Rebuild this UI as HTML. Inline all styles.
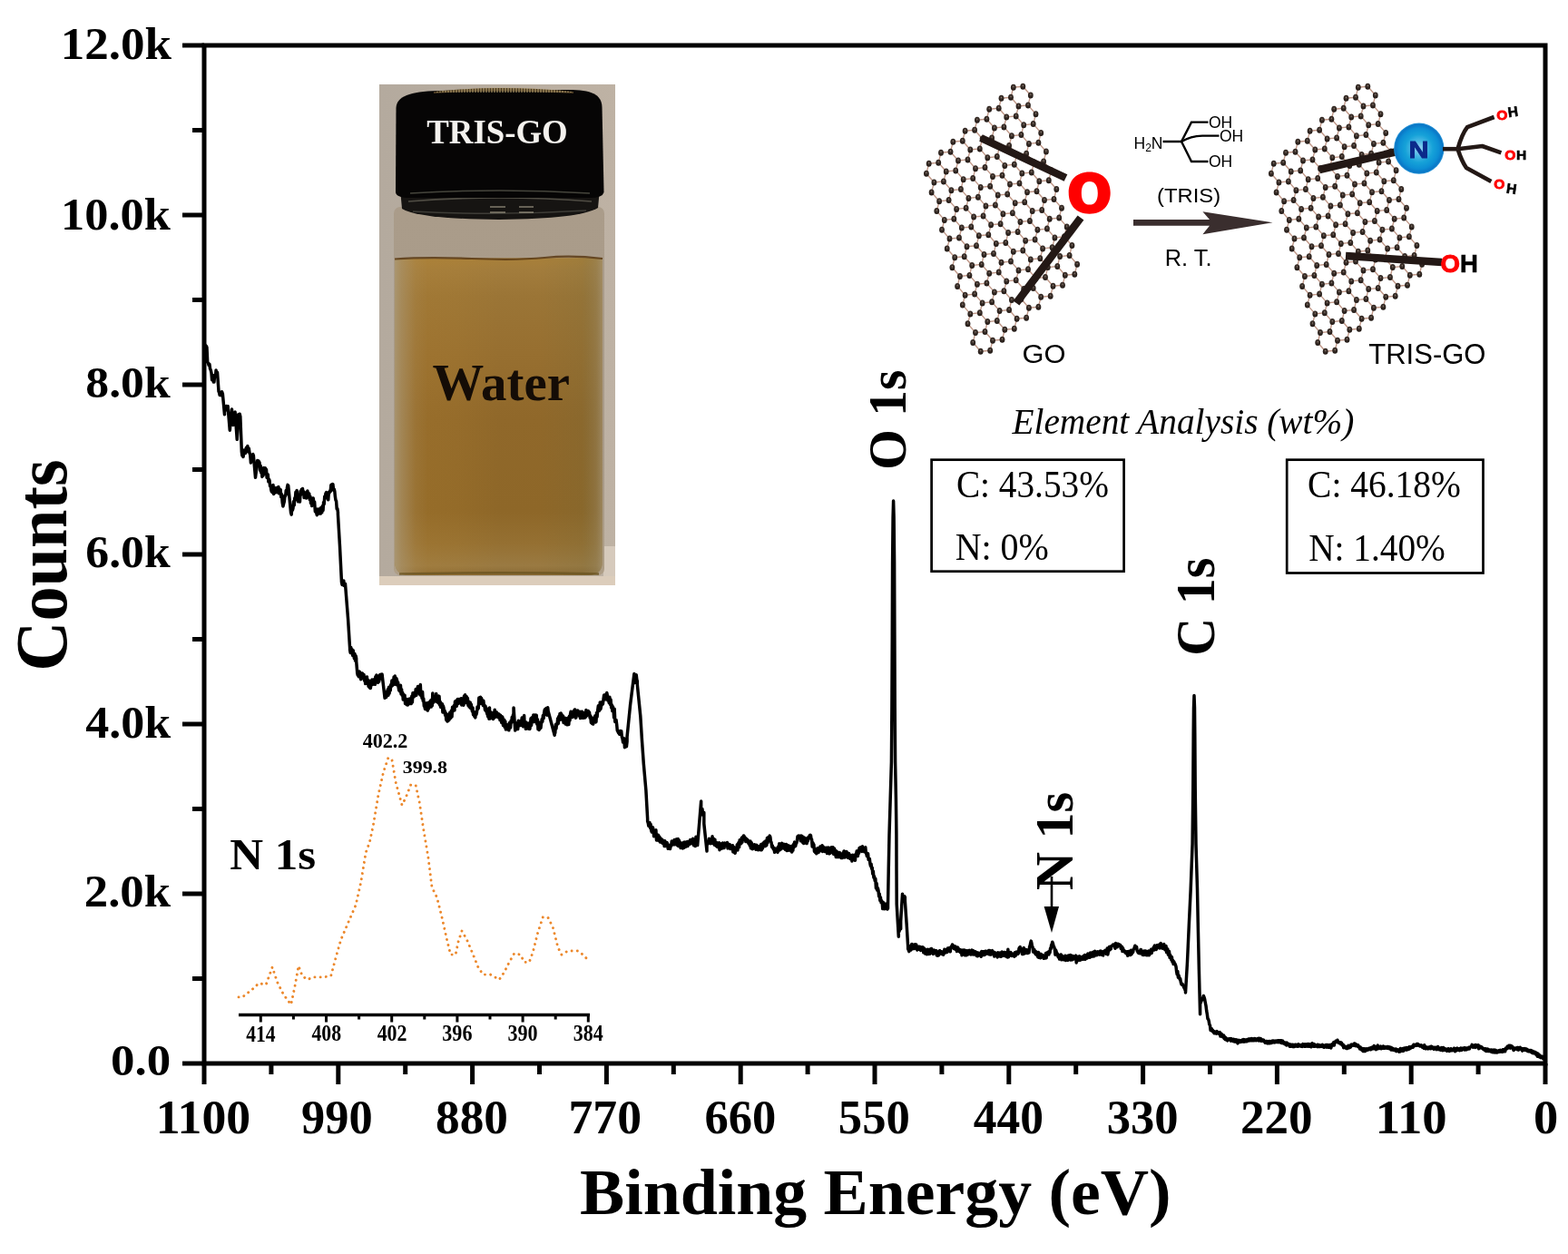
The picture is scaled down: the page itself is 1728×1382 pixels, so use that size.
<!DOCTYPE html><html><head><meta charset="utf-8"><title>XPS</title><style>html,body{margin:0;padding:0;background:#fff;}svg{display:block;}</style></head><body><svg width="1728" height="1382" viewBox="0 0 1728 1382">
<rect width="1728" height="1382" fill="#fff"/>
<defs><linearGradient id="pbg" x1="0" y1="0" x2="1" y2="0"><stop offset="0" stop-color="#b4aa9e"/><stop offset="0.5" stop-color="#b8ad9f"/><stop offset="1" stop-color="#beb2a4"/></linearGradient><linearGradient id="liqv" x1="0" y1="0" x2="0" y2="1"><stop offset="0" stop-color="#a8803a"/><stop offset="0.04" stop-color="#a27c3c"/><stop offset="0.12" stop-color="#9b7536"/><stop offset="0.3" stop-color="#976f30"/><stop offset="0.5" stop-color="#90682a"/><stop offset="0.8" stop-color="#8e6728"/><stop offset="0.9" stop-color="#957032"/><stop offset="0.97" stop-color="#9a7a42"/><stop offset="1" stop-color="#8a6a34"/></linearGradient><linearGradient id="liqh" x1="0" y1="0" x2="1" y2="0"><stop offset="0" stop-color="#aa9a7a" stop-opacity="0.85"/><stop offset="0.035" stop-color="#a89470" stop-opacity="0.6"/><stop offset="0.1" stop-color="#a89470" stop-opacity="0.15"/><stop offset="0.16" stop-color="#a89470" stop-opacity="0"/><stop offset="0.9" stop-color="#8a7a50" stop-opacity="0"/><stop offset="0.97" stop-color="#9a8a68" stop-opacity="0.35"/><stop offset="1" stop-color="#a89a80" stop-opacity="0.6"/></linearGradient><linearGradient id="liqc" x1="0" y1="0" x2="1" y2="0"><stop offset="0.05" stop-color="#c08a30" stop-opacity="0.18"/><stop offset="0.3" stop-color="#c08a30" stop-opacity="0.12"/><stop offset="0.5" stop-color="#c08a30" stop-opacity="0"/><stop offset="0.7" stop-color="#6a6a40" stop-opacity="0"/><stop offset="0.92" stop-color="#6a6a40" stop-opacity="0.15"/></linearGradient><linearGradient id="glass" x1="0" y1="0" x2="0" y2="1"><stop offset="0" stop-color="#aa9c8a"/><stop offset="0.75" stop-color="#a89a88"/><stop offset="1" stop-color="#ae9e86"/></linearGradient><linearGradient id="rim" x1="0" y1="0" x2="0" y2="1"><stop offset="0" stop-color="#0c0a08"/><stop offset="0.35" stop-color="#2a2822"/><stop offset="0.5" stop-color="#6a6658"/><stop offset="0.62" stop-color="#1c1a16"/><stop offset="0.8" stop-color="#3a3830"/><stop offset="1" stop-color="#5a5448"/></linearGradient></defs>
<rect x="418" y="93" width="260" height="552" fill="url(#pbg)"/>
<rect x="665" y="602" width="13" height="43" fill="#d6cabc"/>
<rect x="434" y="228" width="232" height="406" rx="7" fill="url(#glass)"/>
<path d="M435 285 L664 284 L664 618 Q664 634 648 634 L451 634 Q435 634 435 618 Z" fill="url(#liqv)"/>
<path d="M435 285 L664 284 L664 618 Q664 634 648 634 L451 634 Q435 634 435 618 Z" fill="url(#liqc)"/>
<path d="M435 285 L664 284 L664 618 Q664 634 648 634 L451 634 Q435 634 435 618 Z" fill="url(#liqh)"/>
<path d="M435 285.5 Q470 283 520 285 T600 284 T664 285" stroke="#5a3a14" stroke-width="2.2" fill="none" opacity="0.85"/>
<path d="M440 632.5 Q550 630 660 632.5" stroke="#6a5420" stroke-width="2.5" fill="none" opacity="0.8"/>
<rect x="418" y="635" width="260" height="10" fill="#dccdbb"/>
<path d="M441 208 L661 208 L659 229 Q640 241 550 242 Q460 241 443 230 Z" fill="#161412"/>
<path d="M450 222 Q550 214 652 222" stroke="#8a8676" stroke-width="1.6" fill="none" opacity="0.5"/>
<path d="M455 233 Q550 238 646 232" stroke="#5a5850" stroke-width="1.4" fill="none" opacity="0.6"/>
<path d="M540 228 L557 228 M572 228 L588 228 M540 234 L557 234 M572 234 L588 234" stroke="#c8c0a8" stroke-width="2" opacity="0.45"/>
<path d="M436.5 119 C437 106 452 101 482 100 L626 99 C652 99 663 104 663.5 118 L665.5 212 Q664 218 650 218 L452 218 Q437 218 436 212 Z" fill="#060505"/>
<path d="M452 213 Q550 207 650 213" stroke="#7a7a6a" stroke-width="1.4" fill="none" opacity="0.55"/>
<path d="M478 101 Q550 93 632 101 L632 103 Q550 98 478 103 Z" fill="#4a3a22"/>
<g stroke="#c8b07a" stroke-width="1.3" opacity="0.75"><line x1="482" y1="100.8" x2="482" y2="102"/><line x1="485" y1="100.4" x2="485" y2="102"/><line x1="488" y1="100.1" x2="488" y2="102"/><line x1="491" y1="99.8" x2="491" y2="102"/><line x1="494" y1="99.5" x2="494" y2="102"/><line x1="497" y1="99.2" x2="497" y2="102"/><line x1="500" y1="98.9" x2="500" y2="102"/><line x1="503" y1="98.7" x2="503" y2="102"/><line x1="506" y1="98.4" x2="506" y2="102"/><line x1="509" y1="98.2" x2="509" y2="102"/><line x1="512" y1="98.0" x2="512" y2="102"/><line x1="515" y1="97.8" x2="515" y2="102"/><line x1="518" y1="97.6" x2="518" y2="102"/><line x1="521" y1="97.4" x2="521" y2="102"/><line x1="524" y1="97.3" x2="524" y2="102"/><line x1="527" y1="97.1" x2="527" y2="102"/><line x1="530" y1="97.0" x2="530" y2="102"/><line x1="533" y1="96.9" x2="533" y2="102"/><line x1="536" y1="96.8" x2="536" y2="102"/><line x1="539" y1="96.7" x2="539" y2="102"/><line x1="542" y1="96.6" x2="542" y2="102"/><line x1="545" y1="96.6" x2="545" y2="102"/><line x1="548" y1="96.5" x2="548" y2="102"/><line x1="551" y1="96.5" x2="551" y2="102"/><line x1="554" y1="96.5" x2="554" y2="102"/><line x1="557" y1="96.5" x2="557" y2="102"/><line x1="560" y1="96.5" x2="560" y2="102"/><line x1="563" y1="96.6" x2="563" y2="102"/><line x1="566" y1="96.6" x2="566" y2="102"/><line x1="569" y1="96.7" x2="569" y2="102"/><line x1="572" y1="96.7" x2="572" y2="102"/><line x1="575" y1="96.8" x2="575" y2="102"/><line x1="578" y1="96.9" x2="578" y2="102"/><line x1="581" y1="97.0" x2="581" y2="102"/><line x1="584" y1="97.2" x2="584" y2="102"/><line x1="587" y1="97.3" x2="587" y2="102"/><line x1="590" y1="97.5" x2="590" y2="102"/><line x1="593" y1="97.7" x2="593" y2="102"/><line x1="596" y1="97.8" x2="596" y2="102"/><line x1="599" y1="98.0" x2="599" y2="102"/><line x1="602" y1="98.3" x2="602" y2="102"/><line x1="605" y1="98.5" x2="605" y2="102"/><line x1="608" y1="98.7" x2="608" y2="102"/><line x1="611" y1="99.0" x2="611" y2="102"/><line x1="614" y1="99.3" x2="614" y2="102"/><line x1="617" y1="99.6" x2="617" y2="102"/><line x1="620" y1="99.9" x2="620" y2="102"/><line x1="623" y1="100.2" x2="623" y2="102"/><line x1="626" y1="100.5" x2="626" y2="102"/><line x1="629" y1="100.9" x2="629" y2="102"/></g>
<text transform="translate(470.30,157.74) scale(0.9948,1.0505)" font-family="'Liberation Serif','Times New Roman',serif" font-size="37" font-weight="bold" font-style="normal" fill="#f4f2ee">TRIS-GO</text>
<text transform="translate(476.45,440.86) scale(0.9967,0.9895)" font-family="'Liberation Serif','Times New Roman',serif" font-size="57" font-weight="bold" font-style="normal" fill="#140c06">Water</text>
<defs><radialGradient id="atom" cx="0.5" cy="0.38" r="0.62"><stop offset="0" stop-color="#8a7c72"/><stop offset="0.3" stop-color="#3e322c"/><stop offset="1" stop-color="#1c1410"/></radialGradient></defs>
<path d="M1020.9,191.2L1029.4,201.0M1020.9,191.2L1023.7,180.3M1023.7,180.3L1034.2,179.2M1034.2,179.2L1042.7,189.0M1034.2,179.2L1037.0,168.3M1037.0,168.3L1047.5,167.2M1047.5,167.2L1056.0,177.0M1047.5,167.2L1050.3,156.3M1050.3,156.3L1060.8,155.2M1060.8,155.2L1069.3,165.0M1060.8,155.2L1063.6,144.3M1063.6,144.3L1074.1,143.2M1074.1,143.2L1082.6,153.0M1074.1,143.2L1076.9,132.3M1076.9,132.3L1087.4,131.2M1087.4,131.2L1095.9,141.0M1087.4,131.2L1090.2,120.3M1090.2,120.3L1100.7,119.2M1100.7,119.2L1109.2,129.0M1100.7,119.2L1103.5,108.3M1103.5,108.3L1114.0,107.2M1114.0,107.2L1122.5,117.0M1114.0,107.2L1116.8,96.3M1116.8,96.3L1127.3,95.2M1127.3,95.2L1135.8,105.0M1026.6,211.9L1035.1,221.7M1026.6,211.9L1029.4,201.0M1029.4,201.0L1039.9,199.9M1039.9,199.9L1048.4,209.7M1039.9,199.9L1042.7,189.0M1042.7,189.0L1053.2,187.9M1053.2,187.9L1061.7,197.7M1053.2,187.9L1056.0,177.0M1056.0,177.0L1066.5,175.9M1066.5,175.9L1075.0,185.7M1066.5,175.9L1069.3,165.0M1069.3,165.0L1079.8,163.9M1079.8,163.9L1088.3,173.7M1079.8,163.9L1082.6,153.0M1082.6,153.0L1093.1,151.9M1093.1,151.9L1101.6,161.7M1093.1,151.9L1095.9,141.0M1095.9,141.0L1106.4,139.9M1106.4,139.9L1114.9,149.7M1106.4,139.9L1109.2,129.0M1109.2,129.0L1119.7,127.9M1119.7,127.9L1128.2,137.7M1119.7,127.9L1122.5,117.0M1122.5,117.0L1133.0,115.9M1133.0,115.9L1141.5,125.7M1133.0,115.9L1135.8,105.0M1032.3,232.6L1040.8,242.4M1032.3,232.6L1035.1,221.7M1035.1,221.7L1045.6,220.6M1045.6,220.6L1054.1,230.4M1045.6,220.6L1048.4,209.7M1048.4,209.7L1058.9,208.6M1058.9,208.6L1067.4,218.4M1058.9,208.6L1061.7,197.7M1061.7,197.7L1072.2,196.6M1072.2,196.6L1080.7,206.4M1072.2,196.6L1075.0,185.7M1075.0,185.7L1085.5,184.6M1085.5,184.6L1094.0,194.4M1085.5,184.6L1088.3,173.7M1088.3,173.7L1098.8,172.6M1098.8,172.6L1107.3,182.4M1098.8,172.6L1101.6,161.7M1101.6,161.7L1112.1,160.6M1112.1,160.6L1120.6,170.4M1112.1,160.6L1114.9,149.7M1114.9,149.7L1125.4,148.6M1125.4,148.6L1133.9,158.4M1125.4,148.6L1128.2,137.7M1128.2,137.7L1138.7,136.6M1138.7,136.6L1147.2,146.4M1138.7,136.6L1141.5,125.7M1038.0,253.3L1046.5,263.1M1038.0,253.3L1040.8,242.4M1040.8,242.4L1051.3,241.3M1051.3,241.3L1059.8,251.1M1051.3,241.3L1054.1,230.4M1054.1,230.4L1064.6,229.3M1064.6,229.3L1073.1,239.1M1064.6,229.3L1067.4,218.4M1067.4,218.4L1077.9,217.3M1077.9,217.3L1086.4,227.1M1077.9,217.3L1080.7,206.4M1080.7,206.4L1091.2,205.3M1091.2,205.3L1099.7,215.1M1091.2,205.3L1094.0,194.4M1094.0,194.4L1104.5,193.3M1104.5,193.3L1113.0,203.1M1104.5,193.3L1107.3,182.4M1107.3,182.4L1117.8,181.3M1117.8,181.3L1126.3,191.1M1117.8,181.3L1120.6,170.4M1120.6,170.4L1131.1,169.3M1131.1,169.3L1139.6,179.1M1131.1,169.3L1133.9,158.4M1133.9,158.4L1144.4,157.3M1144.4,157.3L1152.9,167.1M1144.4,157.3L1147.2,146.4M1043.7,274.0L1052.2,283.8M1043.7,274.0L1046.5,263.1M1046.5,263.1L1057.0,262.0M1057.0,262.0L1065.5,271.8M1057.0,262.0L1059.8,251.1M1059.8,251.1L1070.3,250.0M1070.3,250.0L1078.8,259.8M1070.3,250.0L1073.1,239.1M1073.1,239.1L1083.6,238.0M1083.6,238.0L1092.1,247.8M1083.6,238.0L1086.4,227.1M1086.4,227.1L1096.9,226.0M1096.9,226.0L1105.4,235.8M1096.9,226.0L1099.7,215.1M1099.7,215.1L1110.2,214.0M1110.2,214.0L1118.7,223.8M1110.2,214.0L1113.0,203.1M1113.0,203.1L1123.5,202.0M1123.5,202.0L1132.0,211.8M1123.5,202.0L1126.3,191.1M1126.3,191.1L1136.8,190.0M1136.8,190.0L1145.3,199.8M1136.8,190.0L1139.6,179.1M1139.6,179.1L1150.1,178.0M1150.1,178.0L1158.6,187.8M1150.1,178.0L1152.9,167.1M1049.4,294.7L1057.9,304.5M1049.4,294.7L1052.2,283.8M1052.2,283.8L1062.7,282.7M1062.7,282.7L1071.2,292.5M1062.7,282.7L1065.5,271.8M1065.5,271.8L1076.0,270.7M1076.0,270.7L1084.5,280.5M1076.0,270.7L1078.8,259.8M1078.8,259.8L1089.3,258.7M1089.3,258.7L1097.8,268.5M1089.3,258.7L1092.1,247.8M1092.1,247.8L1102.6,246.7M1102.6,246.7L1111.1,256.5M1102.6,246.7L1105.4,235.8M1105.4,235.8L1115.9,234.7M1115.9,234.7L1124.4,244.5M1115.9,234.7L1118.7,223.8M1118.7,223.8L1129.2,222.7M1129.2,222.7L1137.7,232.5M1129.2,222.7L1132.0,211.8M1132.0,211.8L1142.5,210.7M1142.5,210.7L1151.0,220.5M1142.5,210.7L1145.3,199.8M1145.3,199.8L1155.8,198.7M1155.8,198.7L1164.3,208.5M1155.8,198.7L1158.6,187.8M1055.1,315.4L1063.6,325.2M1055.1,315.4L1057.9,304.5M1057.9,304.5L1068.4,303.4M1068.4,303.4L1076.9,313.2M1068.4,303.4L1071.2,292.5M1071.2,292.5L1081.7,291.4M1081.7,291.4L1090.2,301.2M1081.7,291.4L1084.5,280.5M1084.5,280.5L1095.0,279.4M1095.0,279.4L1103.5,289.2M1095.0,279.4L1097.8,268.5M1097.8,268.5L1108.3,267.4M1108.3,267.4L1116.8,277.2M1108.3,267.4L1111.1,256.5M1111.1,256.5L1121.6,255.4M1121.6,255.4L1130.1,265.2M1121.6,255.4L1124.4,244.5M1124.4,244.5L1134.9,243.4M1134.9,243.4L1143.4,253.2M1134.9,243.4L1137.7,232.5M1137.7,232.5L1148.2,231.4M1148.2,231.4L1156.7,241.2M1148.2,231.4L1151.0,220.5M1151.0,220.5L1161.5,219.4M1161.5,219.4L1170.0,229.2M1161.5,219.4L1164.3,208.5M1060.8,336.1L1069.3,345.9M1060.8,336.1L1063.6,325.2M1063.6,325.2L1074.1,324.1M1074.1,324.1L1082.6,333.9M1074.1,324.1L1076.9,313.2M1076.9,313.2L1087.4,312.1M1087.4,312.1L1095.9,321.9M1087.4,312.1L1090.2,301.2M1090.2,301.2L1100.7,300.1M1100.7,300.1L1109.2,309.9M1100.7,300.1L1103.5,289.2M1103.5,289.2L1114.0,288.1M1114.0,288.1L1122.5,297.9M1114.0,288.1L1116.8,277.2M1116.8,277.2L1127.3,276.1M1127.3,276.1L1135.8,285.9M1127.3,276.1L1130.1,265.2M1130.1,265.2L1140.6,264.1M1140.6,264.1L1149.1,273.9M1140.6,264.1L1143.4,253.2M1143.4,253.2L1153.9,252.1M1153.9,252.1L1162.4,261.9M1153.9,252.1L1156.7,241.2M1156.7,241.2L1167.2,240.1M1167.2,240.1L1175.7,249.9M1167.2,240.1L1170.0,229.2M1066.5,356.8L1075.0,366.6M1066.5,356.8L1069.3,345.9M1069.3,345.9L1079.8,344.8M1079.8,344.8L1088.3,354.6M1079.8,344.8L1082.6,333.9M1082.6,333.9L1093.1,332.8M1093.1,332.8L1101.6,342.6M1093.1,332.8L1095.9,321.9M1095.9,321.9L1106.4,320.8M1106.4,320.8L1114.9,330.6M1106.4,320.8L1109.2,309.9M1109.2,309.9L1119.7,308.8M1119.7,308.8L1128.2,318.6M1119.7,308.8L1122.5,297.9M1122.5,297.9L1133.0,296.8M1133.0,296.8L1141.5,306.6M1133.0,296.8L1135.8,285.9M1135.8,285.9L1146.3,284.8M1146.3,284.8L1154.8,294.6M1146.3,284.8L1149.1,273.9M1149.1,273.9L1159.6,272.8M1159.6,272.8L1168.1,282.6M1159.6,272.8L1162.4,261.9M1162.4,261.9L1172.9,260.8M1172.9,260.8L1181.4,270.6M1172.9,260.8L1175.7,249.9M1072.2,377.5L1080.7,387.3M1072.2,377.5L1075.0,366.6M1075.0,366.6L1085.5,365.5M1085.5,365.5L1094.0,375.3M1085.5,365.5L1088.3,354.6M1088.3,354.6L1098.8,353.5M1098.8,353.5L1107.3,363.3M1098.8,353.5L1101.6,342.6M1101.6,342.6L1112.1,341.5M1112.1,341.5L1120.6,351.3M1112.1,341.5L1114.9,330.6M1114.9,330.6L1125.4,329.5M1125.4,329.5L1133.9,339.3M1125.4,329.5L1128.2,318.6M1128.2,318.6L1138.7,317.5M1138.7,317.5L1147.2,327.3M1138.7,317.5L1141.5,306.6M1141.5,306.6L1152.0,305.5M1152.0,305.5L1160.5,315.3M1152.0,305.5L1154.8,294.6M1154.8,294.6L1165.3,293.5M1165.3,293.5L1173.8,303.3M1165.3,293.5L1168.1,282.6M1168.1,282.6L1178.6,281.5M1178.6,281.5L1187.1,291.3M1178.6,281.5L1181.4,270.6M1080.7,387.3L1091.2,386.2M1091.2,386.2L1094.0,375.3M1094.0,375.3L1104.5,374.2M1104.5,374.2L1107.3,363.3M1107.3,363.3L1117.8,362.2M1117.8,362.2L1120.6,351.3M1120.6,351.3L1131.1,350.2M1131.1,350.2L1133.9,339.3M1133.9,339.3L1144.4,338.2M1144.4,338.2L1147.2,327.3M1147.2,327.3L1157.7,326.2M1157.7,326.2L1160.5,315.3M1160.5,315.3L1171.0,314.2M1171.0,314.2L1173.8,303.3M1173.8,303.3L1184.3,302.2M1184.3,302.2L1187.1,291.3" stroke="#c09888" stroke-width="1.4" fill="none"/>
<g fill="url(#atom)"><ellipse cx="1020.9" cy="191.2" rx="2.9" ry="3.5"/><ellipse cx="1023.7" cy="180.3" rx="2.9" ry="3.5"/><ellipse cx="1034.2" cy="179.2" rx="2.9" ry="3.5"/><ellipse cx="1037.0" cy="168.3" rx="2.9" ry="3.5"/><ellipse cx="1047.5" cy="167.2" rx="2.9" ry="3.5"/><ellipse cx="1050.3" cy="156.3" rx="2.9" ry="3.5"/><ellipse cx="1060.8" cy="155.2" rx="2.9" ry="3.5"/><ellipse cx="1063.6" cy="144.3" rx="2.9" ry="3.5"/><ellipse cx="1074.1" cy="143.2" rx="2.9" ry="3.5"/><ellipse cx="1076.9" cy="132.3" rx="2.9" ry="3.5"/><ellipse cx="1087.4" cy="131.2" rx="2.9" ry="3.5"/><ellipse cx="1090.2" cy="120.3" rx="2.9" ry="3.5"/><ellipse cx="1100.7" cy="119.2" rx="2.9" ry="3.5"/><ellipse cx="1103.5" cy="108.3" rx="2.9" ry="3.5"/><ellipse cx="1114.0" cy="107.2" rx="2.9" ry="3.5"/><ellipse cx="1116.8" cy="96.3" rx="2.9" ry="3.5"/><ellipse cx="1127.3" cy="95.2" rx="2.9" ry="3.5"/><ellipse cx="1026.6" cy="211.9" rx="2.9" ry="3.5"/><ellipse cx="1029.4" cy="201.0" rx="2.9" ry="3.5"/><ellipse cx="1039.9" cy="199.9" rx="2.9" ry="3.5"/><ellipse cx="1042.7" cy="189.0" rx="2.9" ry="3.5"/><ellipse cx="1053.2" cy="187.9" rx="2.9" ry="3.5"/><ellipse cx="1056.0" cy="177.0" rx="2.9" ry="3.5"/><ellipse cx="1066.5" cy="175.9" rx="2.9" ry="3.5"/><ellipse cx="1069.3" cy="165.0" rx="2.9" ry="3.5"/><ellipse cx="1079.8" cy="163.9" rx="2.9" ry="3.5"/><ellipse cx="1082.6" cy="153.0" rx="2.9" ry="3.5"/><ellipse cx="1093.1" cy="151.9" rx="2.9" ry="3.5"/><ellipse cx="1095.9" cy="141.0" rx="2.9" ry="3.5"/><ellipse cx="1106.4" cy="139.9" rx="2.9" ry="3.5"/><ellipse cx="1109.2" cy="129.0" rx="2.9" ry="3.5"/><ellipse cx="1119.7" cy="127.9" rx="2.9" ry="3.5"/><ellipse cx="1122.5" cy="117.0" rx="2.9" ry="3.5"/><ellipse cx="1133.0" cy="115.9" rx="2.9" ry="3.5"/><ellipse cx="1135.8" cy="105.0" rx="2.9" ry="3.5"/><ellipse cx="1032.3" cy="232.6" rx="2.9" ry="3.5"/><ellipse cx="1035.1" cy="221.7" rx="2.9" ry="3.5"/><ellipse cx="1045.6" cy="220.6" rx="2.9" ry="3.5"/><ellipse cx="1048.4" cy="209.7" rx="2.9" ry="3.5"/><ellipse cx="1058.9" cy="208.6" rx="2.9" ry="3.5"/><ellipse cx="1061.7" cy="197.7" rx="2.9" ry="3.5"/><ellipse cx="1072.2" cy="196.6" rx="2.9" ry="3.5"/><ellipse cx="1075.0" cy="185.7" rx="2.9" ry="3.5"/><ellipse cx="1085.5" cy="184.6" rx="2.9" ry="3.5"/><ellipse cx="1088.3" cy="173.7" rx="2.9" ry="3.5"/><ellipse cx="1098.8" cy="172.6" rx="2.9" ry="3.5"/><ellipse cx="1101.6" cy="161.7" rx="2.9" ry="3.5"/><ellipse cx="1112.1" cy="160.6" rx="2.9" ry="3.5"/><ellipse cx="1114.9" cy="149.7" rx="2.9" ry="3.5"/><ellipse cx="1125.4" cy="148.6" rx="2.9" ry="3.5"/><ellipse cx="1128.2" cy="137.7" rx="2.9" ry="3.5"/><ellipse cx="1138.7" cy="136.6" rx="2.9" ry="3.5"/><ellipse cx="1141.5" cy="125.7" rx="2.9" ry="3.5"/><ellipse cx="1038.0" cy="253.3" rx="2.9" ry="3.5"/><ellipse cx="1040.8" cy="242.4" rx="2.9" ry="3.5"/><ellipse cx="1051.3" cy="241.3" rx="2.9" ry="3.5"/><ellipse cx="1054.1" cy="230.4" rx="2.9" ry="3.5"/><ellipse cx="1064.6" cy="229.3" rx="2.9" ry="3.5"/><ellipse cx="1067.4" cy="218.4" rx="2.9" ry="3.5"/><ellipse cx="1077.9" cy="217.3" rx="2.9" ry="3.5"/><ellipse cx="1080.7" cy="206.4" rx="2.9" ry="3.5"/><ellipse cx="1091.2" cy="205.3" rx="2.9" ry="3.5"/><ellipse cx="1094.0" cy="194.4" rx="2.9" ry="3.5"/><ellipse cx="1104.5" cy="193.3" rx="2.9" ry="3.5"/><ellipse cx="1107.3" cy="182.4" rx="2.9" ry="3.5"/><ellipse cx="1117.8" cy="181.3" rx="2.9" ry="3.5"/><ellipse cx="1120.6" cy="170.4" rx="2.9" ry="3.5"/><ellipse cx="1131.1" cy="169.3" rx="2.9" ry="3.5"/><ellipse cx="1133.9" cy="158.4" rx="2.9" ry="3.5"/><ellipse cx="1144.4" cy="157.3" rx="2.9" ry="3.5"/><ellipse cx="1147.2" cy="146.4" rx="2.9" ry="3.5"/><ellipse cx="1043.7" cy="274.0" rx="2.9" ry="3.5"/><ellipse cx="1046.5" cy="263.1" rx="2.9" ry="3.5"/><ellipse cx="1057.0" cy="262.0" rx="2.9" ry="3.5"/><ellipse cx="1059.8" cy="251.1" rx="2.9" ry="3.5"/><ellipse cx="1070.3" cy="250.0" rx="2.9" ry="3.5"/><ellipse cx="1073.1" cy="239.1" rx="2.9" ry="3.5"/><ellipse cx="1083.6" cy="238.0" rx="2.9" ry="3.5"/><ellipse cx="1086.4" cy="227.1" rx="2.9" ry="3.5"/><ellipse cx="1096.9" cy="226.0" rx="2.9" ry="3.5"/><ellipse cx="1099.7" cy="215.1" rx="2.9" ry="3.5"/><ellipse cx="1110.2" cy="214.0" rx="2.9" ry="3.5"/><ellipse cx="1113.0" cy="203.1" rx="2.9" ry="3.5"/><ellipse cx="1123.5" cy="202.0" rx="2.9" ry="3.5"/><ellipse cx="1126.3" cy="191.1" rx="2.9" ry="3.5"/><ellipse cx="1136.8" cy="190.0" rx="2.9" ry="3.5"/><ellipse cx="1139.6" cy="179.1" rx="2.9" ry="3.5"/><ellipse cx="1150.1" cy="178.0" rx="2.9" ry="3.5"/><ellipse cx="1152.9" cy="167.1" rx="2.9" ry="3.5"/><ellipse cx="1049.4" cy="294.7" rx="2.9" ry="3.5"/><ellipse cx="1052.2" cy="283.8" rx="2.9" ry="3.5"/><ellipse cx="1062.7" cy="282.7" rx="2.9" ry="3.5"/><ellipse cx="1065.5" cy="271.8" rx="2.9" ry="3.5"/><ellipse cx="1076.0" cy="270.7" rx="2.9" ry="3.5"/><ellipse cx="1078.8" cy="259.8" rx="2.9" ry="3.5"/><ellipse cx="1089.3" cy="258.7" rx="2.9" ry="3.5"/><ellipse cx="1092.1" cy="247.8" rx="2.9" ry="3.5"/><ellipse cx="1102.6" cy="246.7" rx="2.9" ry="3.5"/><ellipse cx="1105.4" cy="235.8" rx="2.9" ry="3.5"/><ellipse cx="1115.9" cy="234.7" rx="2.9" ry="3.5"/><ellipse cx="1118.7" cy="223.8" rx="2.9" ry="3.5"/><ellipse cx="1129.2" cy="222.7" rx="2.9" ry="3.5"/><ellipse cx="1132.0" cy="211.8" rx="2.9" ry="3.5"/><ellipse cx="1142.5" cy="210.7" rx="2.9" ry="3.5"/><ellipse cx="1145.3" cy="199.8" rx="2.9" ry="3.5"/><ellipse cx="1155.8" cy="198.7" rx="2.9" ry="3.5"/><ellipse cx="1158.6" cy="187.8" rx="2.9" ry="3.5"/><ellipse cx="1055.1" cy="315.4" rx="2.9" ry="3.5"/><ellipse cx="1057.9" cy="304.5" rx="2.9" ry="3.5"/><ellipse cx="1068.4" cy="303.4" rx="2.9" ry="3.5"/><ellipse cx="1071.2" cy="292.5" rx="2.9" ry="3.5"/><ellipse cx="1081.7" cy="291.4" rx="2.9" ry="3.5"/><ellipse cx="1084.5" cy="280.5" rx="2.9" ry="3.5"/><ellipse cx="1095.0" cy="279.4" rx="2.9" ry="3.5"/><ellipse cx="1097.8" cy="268.5" rx="2.9" ry="3.5"/><ellipse cx="1108.3" cy="267.4" rx="2.9" ry="3.5"/><ellipse cx="1111.1" cy="256.5" rx="2.9" ry="3.5"/><ellipse cx="1121.6" cy="255.4" rx="2.9" ry="3.5"/><ellipse cx="1124.4" cy="244.5" rx="2.9" ry="3.5"/><ellipse cx="1134.9" cy="243.4" rx="2.9" ry="3.5"/><ellipse cx="1137.7" cy="232.5" rx="2.9" ry="3.5"/><ellipse cx="1148.2" cy="231.4" rx="2.9" ry="3.5"/><ellipse cx="1151.0" cy="220.5" rx="2.9" ry="3.5"/><ellipse cx="1161.5" cy="219.4" rx="2.9" ry="3.5"/><ellipse cx="1164.3" cy="208.5" rx="2.9" ry="3.5"/><ellipse cx="1060.8" cy="336.1" rx="2.9" ry="3.5"/><ellipse cx="1063.6" cy="325.2" rx="2.9" ry="3.5"/><ellipse cx="1074.1" cy="324.1" rx="2.9" ry="3.5"/><ellipse cx="1076.9" cy="313.2" rx="2.9" ry="3.5"/><ellipse cx="1087.4" cy="312.1" rx="2.9" ry="3.5"/><ellipse cx="1090.2" cy="301.2" rx="2.9" ry="3.5"/><ellipse cx="1100.7" cy="300.1" rx="2.9" ry="3.5"/><ellipse cx="1103.5" cy="289.2" rx="2.9" ry="3.5"/><ellipse cx="1114.0" cy="288.1" rx="2.9" ry="3.5"/><ellipse cx="1116.8" cy="277.2" rx="2.9" ry="3.5"/><ellipse cx="1127.3" cy="276.1" rx="2.9" ry="3.5"/><ellipse cx="1130.1" cy="265.2" rx="2.9" ry="3.5"/><ellipse cx="1140.6" cy="264.1" rx="2.9" ry="3.5"/><ellipse cx="1143.4" cy="253.2" rx="2.9" ry="3.5"/><ellipse cx="1153.9" cy="252.1" rx="2.9" ry="3.5"/><ellipse cx="1156.7" cy="241.2" rx="2.9" ry="3.5"/><ellipse cx="1167.2" cy="240.1" rx="2.9" ry="3.5"/><ellipse cx="1170.0" cy="229.2" rx="2.9" ry="3.5"/><ellipse cx="1066.5" cy="356.8" rx="2.9" ry="3.5"/><ellipse cx="1069.3" cy="345.9" rx="2.9" ry="3.5"/><ellipse cx="1079.8" cy="344.8" rx="2.9" ry="3.5"/><ellipse cx="1082.6" cy="333.9" rx="2.9" ry="3.5"/><ellipse cx="1093.1" cy="332.8" rx="2.9" ry="3.5"/><ellipse cx="1095.9" cy="321.9" rx="2.9" ry="3.5"/><ellipse cx="1106.4" cy="320.8" rx="2.9" ry="3.5"/><ellipse cx="1109.2" cy="309.9" rx="2.9" ry="3.5"/><ellipse cx="1119.7" cy="308.8" rx="2.9" ry="3.5"/><ellipse cx="1122.5" cy="297.9" rx="2.9" ry="3.5"/><ellipse cx="1133.0" cy="296.8" rx="2.9" ry="3.5"/><ellipse cx="1135.8" cy="285.9" rx="2.9" ry="3.5"/><ellipse cx="1146.3" cy="284.8" rx="2.9" ry="3.5"/><ellipse cx="1149.1" cy="273.9" rx="2.9" ry="3.5"/><ellipse cx="1159.6" cy="272.8" rx="2.9" ry="3.5"/><ellipse cx="1162.4" cy="261.9" rx="2.9" ry="3.5"/><ellipse cx="1172.9" cy="260.8" rx="2.9" ry="3.5"/><ellipse cx="1175.7" cy="249.9" rx="2.9" ry="3.5"/><ellipse cx="1072.2" cy="377.5" rx="2.9" ry="3.5"/><ellipse cx="1075.0" cy="366.6" rx="2.9" ry="3.5"/><ellipse cx="1085.5" cy="365.5" rx="2.9" ry="3.5"/><ellipse cx="1088.3" cy="354.6" rx="2.9" ry="3.5"/><ellipse cx="1098.8" cy="353.5" rx="2.9" ry="3.5"/><ellipse cx="1101.6" cy="342.6" rx="2.9" ry="3.5"/><ellipse cx="1112.1" cy="341.5" rx="2.9" ry="3.5"/><ellipse cx="1114.9" cy="330.6" rx="2.9" ry="3.5"/><ellipse cx="1125.4" cy="329.5" rx="2.9" ry="3.5"/><ellipse cx="1128.2" cy="318.6" rx="2.9" ry="3.5"/><ellipse cx="1138.7" cy="317.5" rx="2.9" ry="3.5"/><ellipse cx="1141.5" cy="306.6" rx="2.9" ry="3.5"/><ellipse cx="1152.0" cy="305.5" rx="2.9" ry="3.5"/><ellipse cx="1154.8" cy="294.6" rx="2.9" ry="3.5"/><ellipse cx="1165.3" cy="293.5" rx="2.9" ry="3.5"/><ellipse cx="1168.1" cy="282.6" rx="2.9" ry="3.5"/><ellipse cx="1178.6" cy="281.5" rx="2.9" ry="3.5"/><ellipse cx="1181.4" cy="270.6" rx="2.9" ry="3.5"/><ellipse cx="1080.7" cy="387.3" rx="2.9" ry="3.5"/><ellipse cx="1091.2" cy="386.2" rx="2.9" ry="3.5"/><ellipse cx="1094.0" cy="375.3" rx="2.9" ry="3.5"/><ellipse cx="1104.5" cy="374.2" rx="2.9" ry="3.5"/><ellipse cx="1107.3" cy="363.3" rx="2.9" ry="3.5"/><ellipse cx="1117.8" cy="362.2" rx="2.9" ry="3.5"/><ellipse cx="1120.6" cy="351.3" rx="2.9" ry="3.5"/><ellipse cx="1131.1" cy="350.2" rx="2.9" ry="3.5"/><ellipse cx="1133.9" cy="339.3" rx="2.9" ry="3.5"/><ellipse cx="1144.4" cy="338.2" rx="2.9" ry="3.5"/><ellipse cx="1147.2" cy="327.3" rx="2.9" ry="3.5"/><ellipse cx="1157.7" cy="326.2" rx="2.9" ry="3.5"/><ellipse cx="1160.5" cy="315.3" rx="2.9" ry="3.5"/><ellipse cx="1171.0" cy="314.2" rx="2.9" ry="3.5"/><ellipse cx="1173.8" cy="303.3" rx="2.9" ry="3.5"/><ellipse cx="1184.3" cy="302.2" rx="2.9" ry="3.5"/><ellipse cx="1187.1" cy="291.3" rx="2.9" ry="3.5"/></g>
<path d="M1400.9,191.2L1409.4,201.0M1400.9,191.2L1403.7,180.3M1403.7,180.3L1414.2,179.2M1414.2,179.2L1422.7,189.0M1414.2,179.2L1417.0,168.3M1417.0,168.3L1427.5,167.2M1427.5,167.2L1436.0,177.0M1427.5,167.2L1430.3,156.3M1430.3,156.3L1440.8,155.2M1440.8,155.2L1449.3,165.0M1440.8,155.2L1443.6,144.3M1443.6,144.3L1454.1,143.2M1454.1,143.2L1462.6,153.0M1454.1,143.2L1456.9,132.3M1456.9,132.3L1467.4,131.2M1467.4,131.2L1475.9,141.0M1467.4,131.2L1470.2,120.3M1470.2,120.3L1480.7,119.2M1480.7,119.2L1489.2,129.0M1480.7,119.2L1483.5,108.3M1483.5,108.3L1494.0,107.2M1494.0,107.2L1502.5,117.0M1494.0,107.2L1496.8,96.3M1496.8,96.3L1507.3,95.2M1507.3,95.2L1515.8,105.0M1406.6,211.9L1415.1,221.7M1406.6,211.9L1409.4,201.0M1409.4,201.0L1419.9,199.9M1419.9,199.9L1428.4,209.7M1419.9,199.9L1422.7,189.0M1422.7,189.0L1433.2,187.9M1433.2,187.9L1441.7,197.7M1433.2,187.9L1436.0,177.0M1436.0,177.0L1446.5,175.9M1446.5,175.9L1455.0,185.7M1446.5,175.9L1449.3,165.0M1449.3,165.0L1459.8,163.9M1459.8,163.9L1468.3,173.7M1459.8,163.9L1462.6,153.0M1462.6,153.0L1473.1,151.9M1473.1,151.9L1481.6,161.7M1473.1,151.9L1475.9,141.0M1475.9,141.0L1486.4,139.9M1486.4,139.9L1494.9,149.7M1486.4,139.9L1489.2,129.0M1489.2,129.0L1499.7,127.9M1499.7,127.9L1508.2,137.7M1499.7,127.9L1502.5,117.0M1502.5,117.0L1513.0,115.9M1513.0,115.9L1521.5,125.7M1513.0,115.9L1515.8,105.0M1412.3,232.6L1420.8,242.4M1412.3,232.6L1415.1,221.7M1415.1,221.7L1425.6,220.6M1425.6,220.6L1434.1,230.4M1425.6,220.6L1428.4,209.7M1428.4,209.7L1438.9,208.6M1438.9,208.6L1447.4,218.4M1438.9,208.6L1441.7,197.7M1441.7,197.7L1452.2,196.6M1452.2,196.6L1460.7,206.4M1452.2,196.6L1455.0,185.7M1455.0,185.7L1465.5,184.6M1465.5,184.6L1474.0,194.4M1465.5,184.6L1468.3,173.7M1468.3,173.7L1478.8,172.6M1478.8,172.6L1487.3,182.4M1478.8,172.6L1481.6,161.7M1481.6,161.7L1492.1,160.6M1492.1,160.6L1500.6,170.4M1492.1,160.6L1494.9,149.7M1494.9,149.7L1505.4,148.6M1505.4,148.6L1513.9,158.4M1505.4,148.6L1508.2,137.7M1508.2,137.7L1518.7,136.6M1518.7,136.6L1527.2,146.4M1518.7,136.6L1521.5,125.7M1418.0,253.3L1426.5,263.1M1418.0,253.3L1420.8,242.4M1420.8,242.4L1431.3,241.3M1431.3,241.3L1439.8,251.1M1431.3,241.3L1434.1,230.4M1434.1,230.4L1444.6,229.3M1444.6,229.3L1453.1,239.1M1444.6,229.3L1447.4,218.4M1447.4,218.4L1457.9,217.3M1457.9,217.3L1466.4,227.1M1457.9,217.3L1460.7,206.4M1460.7,206.4L1471.2,205.3M1471.2,205.3L1479.7,215.1M1471.2,205.3L1474.0,194.4M1474.0,194.4L1484.5,193.3M1484.5,193.3L1493.0,203.1M1484.5,193.3L1487.3,182.4M1487.3,182.4L1497.8,181.3M1497.8,181.3L1506.3,191.1M1497.8,181.3L1500.6,170.4M1500.6,170.4L1511.1,169.3M1511.1,169.3L1519.6,179.1M1511.1,169.3L1513.9,158.4M1513.9,158.4L1524.4,157.3M1524.4,157.3L1532.9,167.1M1524.4,157.3L1527.2,146.4M1423.7,274.0L1432.2,283.8M1423.7,274.0L1426.5,263.1M1426.5,263.1L1437.0,262.0M1437.0,262.0L1445.5,271.8M1437.0,262.0L1439.8,251.1M1439.8,251.1L1450.3,250.0M1450.3,250.0L1458.8,259.8M1450.3,250.0L1453.1,239.1M1453.1,239.1L1463.6,238.0M1463.6,238.0L1472.1,247.8M1463.6,238.0L1466.4,227.1M1466.4,227.1L1476.9,226.0M1476.9,226.0L1485.4,235.8M1476.9,226.0L1479.7,215.1M1479.7,215.1L1490.2,214.0M1490.2,214.0L1498.7,223.8M1490.2,214.0L1493.0,203.1M1493.0,203.1L1503.5,202.0M1503.5,202.0L1512.0,211.8M1503.5,202.0L1506.3,191.1M1506.3,191.1L1516.8,190.0M1516.8,190.0L1525.3,199.8M1516.8,190.0L1519.6,179.1M1519.6,179.1L1530.1,178.0M1530.1,178.0L1538.6,187.8M1530.1,178.0L1532.9,167.1M1429.4,294.7L1437.9,304.5M1429.4,294.7L1432.2,283.8M1432.2,283.8L1442.7,282.7M1442.7,282.7L1451.2,292.5M1442.7,282.7L1445.5,271.8M1445.5,271.8L1456.0,270.7M1456.0,270.7L1464.5,280.5M1456.0,270.7L1458.8,259.8M1458.8,259.8L1469.3,258.7M1469.3,258.7L1477.8,268.5M1469.3,258.7L1472.1,247.8M1472.1,247.8L1482.6,246.7M1482.6,246.7L1491.1,256.5M1482.6,246.7L1485.4,235.8M1485.4,235.8L1495.9,234.7M1495.9,234.7L1504.4,244.5M1495.9,234.7L1498.7,223.8M1498.7,223.8L1509.2,222.7M1509.2,222.7L1517.7,232.5M1509.2,222.7L1512.0,211.8M1512.0,211.8L1522.5,210.7M1522.5,210.7L1531.0,220.5M1522.5,210.7L1525.3,199.8M1525.3,199.8L1535.8,198.7M1535.8,198.7L1544.3,208.5M1535.8,198.7L1538.6,187.8M1435.1,315.4L1443.6,325.2M1435.1,315.4L1437.9,304.5M1437.9,304.5L1448.4,303.4M1448.4,303.4L1456.9,313.2M1448.4,303.4L1451.2,292.5M1451.2,292.5L1461.7,291.4M1461.7,291.4L1470.2,301.2M1461.7,291.4L1464.5,280.5M1464.5,280.5L1475.0,279.4M1475.0,279.4L1483.5,289.2M1475.0,279.4L1477.8,268.5M1477.8,268.5L1488.3,267.4M1488.3,267.4L1496.8,277.2M1488.3,267.4L1491.1,256.5M1491.1,256.5L1501.6,255.4M1501.6,255.4L1510.1,265.2M1501.6,255.4L1504.4,244.5M1504.4,244.5L1514.9,243.4M1514.9,243.4L1523.4,253.2M1514.9,243.4L1517.7,232.5M1517.7,232.5L1528.2,231.4M1528.2,231.4L1536.7,241.2M1528.2,231.4L1531.0,220.5M1531.0,220.5L1541.5,219.4M1541.5,219.4L1550.0,229.2M1541.5,219.4L1544.3,208.5M1440.8,336.1L1449.3,345.9M1440.8,336.1L1443.6,325.2M1443.6,325.2L1454.1,324.1M1454.1,324.1L1462.6,333.9M1454.1,324.1L1456.9,313.2M1456.9,313.2L1467.4,312.1M1467.4,312.1L1475.9,321.9M1467.4,312.1L1470.2,301.2M1470.2,301.2L1480.7,300.1M1480.7,300.1L1489.2,309.9M1480.7,300.1L1483.5,289.2M1483.5,289.2L1494.0,288.1M1494.0,288.1L1502.5,297.9M1494.0,288.1L1496.8,277.2M1496.8,277.2L1507.3,276.1M1507.3,276.1L1515.8,285.9M1507.3,276.1L1510.1,265.2M1510.1,265.2L1520.6,264.1M1520.6,264.1L1529.1,273.9M1520.6,264.1L1523.4,253.2M1523.4,253.2L1533.9,252.1M1533.9,252.1L1542.4,261.9M1533.9,252.1L1536.7,241.2M1536.7,241.2L1547.2,240.1M1547.2,240.1L1555.7,249.9M1547.2,240.1L1550.0,229.2M1446.5,356.8L1455.0,366.6M1446.5,356.8L1449.3,345.9M1449.3,345.9L1459.8,344.8M1459.8,344.8L1468.3,354.6M1459.8,344.8L1462.6,333.9M1462.6,333.9L1473.1,332.8M1473.1,332.8L1481.6,342.6M1473.1,332.8L1475.9,321.9M1475.9,321.9L1486.4,320.8M1486.4,320.8L1494.9,330.6M1486.4,320.8L1489.2,309.9M1489.2,309.9L1499.7,308.8M1499.7,308.8L1508.2,318.6M1499.7,308.8L1502.5,297.9M1502.5,297.9L1513.0,296.8M1513.0,296.8L1521.5,306.6M1513.0,296.8L1515.8,285.9M1515.8,285.9L1526.3,284.8M1526.3,284.8L1534.8,294.6M1526.3,284.8L1529.1,273.9M1529.1,273.9L1539.6,272.8M1539.6,272.8L1548.1,282.6M1539.6,272.8L1542.4,261.9M1542.4,261.9L1552.9,260.8M1552.9,260.8L1561.4,270.6M1552.9,260.8L1555.7,249.9M1452.2,377.5L1460.7,387.3M1452.2,377.5L1455.0,366.6M1455.0,366.6L1465.5,365.5M1465.5,365.5L1474.0,375.3M1465.5,365.5L1468.3,354.6M1468.3,354.6L1478.8,353.5M1478.8,353.5L1487.3,363.3M1478.8,353.5L1481.6,342.6M1481.6,342.6L1492.1,341.5M1492.1,341.5L1500.6,351.3M1492.1,341.5L1494.9,330.6M1494.9,330.6L1505.4,329.5M1505.4,329.5L1513.9,339.3M1505.4,329.5L1508.2,318.6M1508.2,318.6L1518.7,317.5M1518.7,317.5L1527.2,327.3M1518.7,317.5L1521.5,306.6M1521.5,306.6L1532.0,305.5M1532.0,305.5L1540.5,315.3M1532.0,305.5L1534.8,294.6M1534.8,294.6L1545.3,293.5M1545.3,293.5L1553.8,303.3M1545.3,293.5L1548.1,282.6M1548.1,282.6L1558.6,281.5M1558.6,281.5L1567.1,291.3M1558.6,281.5L1561.4,270.6M1460.7,387.3L1471.2,386.2M1471.2,386.2L1474.0,375.3M1474.0,375.3L1484.5,374.2M1484.5,374.2L1487.3,363.3M1487.3,363.3L1497.8,362.2M1497.8,362.2L1500.6,351.3M1500.6,351.3L1511.1,350.2M1511.1,350.2L1513.9,339.3M1513.9,339.3L1524.4,338.2M1524.4,338.2L1527.2,327.3M1527.2,327.3L1537.7,326.2M1537.7,326.2L1540.5,315.3M1540.5,315.3L1551.0,314.2M1551.0,314.2L1553.8,303.3M1553.8,303.3L1564.3,302.2M1564.3,302.2L1567.1,291.3" stroke="#c09888" stroke-width="1.4" fill="none"/>
<g fill="url(#atom)"><ellipse cx="1400.9" cy="191.2" rx="2.9" ry="3.5"/><ellipse cx="1403.7" cy="180.3" rx="2.9" ry="3.5"/><ellipse cx="1414.2" cy="179.2" rx="2.9" ry="3.5"/><ellipse cx="1417.0" cy="168.3" rx="2.9" ry="3.5"/><ellipse cx="1427.5" cy="167.2" rx="2.9" ry="3.5"/><ellipse cx="1430.3" cy="156.3" rx="2.9" ry="3.5"/><ellipse cx="1440.8" cy="155.2" rx="2.9" ry="3.5"/><ellipse cx="1443.6" cy="144.3" rx="2.9" ry="3.5"/><ellipse cx="1454.1" cy="143.2" rx="2.9" ry="3.5"/><ellipse cx="1456.9" cy="132.3" rx="2.9" ry="3.5"/><ellipse cx="1467.4" cy="131.2" rx="2.9" ry="3.5"/><ellipse cx="1470.2" cy="120.3" rx="2.9" ry="3.5"/><ellipse cx="1480.7" cy="119.2" rx="2.9" ry="3.5"/><ellipse cx="1483.5" cy="108.3" rx="2.9" ry="3.5"/><ellipse cx="1494.0" cy="107.2" rx="2.9" ry="3.5"/><ellipse cx="1496.8" cy="96.3" rx="2.9" ry="3.5"/><ellipse cx="1507.3" cy="95.2" rx="2.9" ry="3.5"/><ellipse cx="1406.6" cy="211.9" rx="2.9" ry="3.5"/><ellipse cx="1409.4" cy="201.0" rx="2.9" ry="3.5"/><ellipse cx="1419.9" cy="199.9" rx="2.9" ry="3.5"/><ellipse cx="1422.7" cy="189.0" rx="2.9" ry="3.5"/><ellipse cx="1433.2" cy="187.9" rx="2.9" ry="3.5"/><ellipse cx="1436.0" cy="177.0" rx="2.9" ry="3.5"/><ellipse cx="1446.5" cy="175.9" rx="2.9" ry="3.5"/><ellipse cx="1449.3" cy="165.0" rx="2.9" ry="3.5"/><ellipse cx="1459.8" cy="163.9" rx="2.9" ry="3.5"/><ellipse cx="1462.6" cy="153.0" rx="2.9" ry="3.5"/><ellipse cx="1473.1" cy="151.9" rx="2.9" ry="3.5"/><ellipse cx="1475.9" cy="141.0" rx="2.9" ry="3.5"/><ellipse cx="1486.4" cy="139.9" rx="2.9" ry="3.5"/><ellipse cx="1489.2" cy="129.0" rx="2.9" ry="3.5"/><ellipse cx="1499.7" cy="127.9" rx="2.9" ry="3.5"/><ellipse cx="1502.5" cy="117.0" rx="2.9" ry="3.5"/><ellipse cx="1513.0" cy="115.9" rx="2.9" ry="3.5"/><ellipse cx="1515.8" cy="105.0" rx="2.9" ry="3.5"/><ellipse cx="1412.3" cy="232.6" rx="2.9" ry="3.5"/><ellipse cx="1415.1" cy="221.7" rx="2.9" ry="3.5"/><ellipse cx="1425.6" cy="220.6" rx="2.9" ry="3.5"/><ellipse cx="1428.4" cy="209.7" rx="2.9" ry="3.5"/><ellipse cx="1438.9" cy="208.6" rx="2.9" ry="3.5"/><ellipse cx="1441.7" cy="197.7" rx="2.9" ry="3.5"/><ellipse cx="1452.2" cy="196.6" rx="2.9" ry="3.5"/><ellipse cx="1455.0" cy="185.7" rx="2.9" ry="3.5"/><ellipse cx="1465.5" cy="184.6" rx="2.9" ry="3.5"/><ellipse cx="1468.3" cy="173.7" rx="2.9" ry="3.5"/><ellipse cx="1478.8" cy="172.6" rx="2.9" ry="3.5"/><ellipse cx="1481.6" cy="161.7" rx="2.9" ry="3.5"/><ellipse cx="1492.1" cy="160.6" rx="2.9" ry="3.5"/><ellipse cx="1494.9" cy="149.7" rx="2.9" ry="3.5"/><ellipse cx="1505.4" cy="148.6" rx="2.9" ry="3.5"/><ellipse cx="1508.2" cy="137.7" rx="2.9" ry="3.5"/><ellipse cx="1518.7" cy="136.6" rx="2.9" ry="3.5"/><ellipse cx="1521.5" cy="125.7" rx="2.9" ry="3.5"/><ellipse cx="1418.0" cy="253.3" rx="2.9" ry="3.5"/><ellipse cx="1420.8" cy="242.4" rx="2.9" ry="3.5"/><ellipse cx="1431.3" cy="241.3" rx="2.9" ry="3.5"/><ellipse cx="1434.1" cy="230.4" rx="2.9" ry="3.5"/><ellipse cx="1444.6" cy="229.3" rx="2.9" ry="3.5"/><ellipse cx="1447.4" cy="218.4" rx="2.9" ry="3.5"/><ellipse cx="1457.9" cy="217.3" rx="2.9" ry="3.5"/><ellipse cx="1460.7" cy="206.4" rx="2.9" ry="3.5"/><ellipse cx="1471.2" cy="205.3" rx="2.9" ry="3.5"/><ellipse cx="1474.0" cy="194.4" rx="2.9" ry="3.5"/><ellipse cx="1484.5" cy="193.3" rx="2.9" ry="3.5"/><ellipse cx="1487.3" cy="182.4" rx="2.9" ry="3.5"/><ellipse cx="1497.8" cy="181.3" rx="2.9" ry="3.5"/><ellipse cx="1500.6" cy="170.4" rx="2.9" ry="3.5"/><ellipse cx="1511.1" cy="169.3" rx="2.9" ry="3.5"/><ellipse cx="1513.9" cy="158.4" rx="2.9" ry="3.5"/><ellipse cx="1524.4" cy="157.3" rx="2.9" ry="3.5"/><ellipse cx="1527.2" cy="146.4" rx="2.9" ry="3.5"/><ellipse cx="1423.7" cy="274.0" rx="2.9" ry="3.5"/><ellipse cx="1426.5" cy="263.1" rx="2.9" ry="3.5"/><ellipse cx="1437.0" cy="262.0" rx="2.9" ry="3.5"/><ellipse cx="1439.8" cy="251.1" rx="2.9" ry="3.5"/><ellipse cx="1450.3" cy="250.0" rx="2.9" ry="3.5"/><ellipse cx="1453.1" cy="239.1" rx="2.9" ry="3.5"/><ellipse cx="1463.6" cy="238.0" rx="2.9" ry="3.5"/><ellipse cx="1466.4" cy="227.1" rx="2.9" ry="3.5"/><ellipse cx="1476.9" cy="226.0" rx="2.9" ry="3.5"/><ellipse cx="1479.7" cy="215.1" rx="2.9" ry="3.5"/><ellipse cx="1490.2" cy="214.0" rx="2.9" ry="3.5"/><ellipse cx="1493.0" cy="203.1" rx="2.9" ry="3.5"/><ellipse cx="1503.5" cy="202.0" rx="2.9" ry="3.5"/><ellipse cx="1506.3" cy="191.1" rx="2.9" ry="3.5"/><ellipse cx="1516.8" cy="190.0" rx="2.9" ry="3.5"/><ellipse cx="1519.6" cy="179.1" rx="2.9" ry="3.5"/><ellipse cx="1530.1" cy="178.0" rx="2.9" ry="3.5"/><ellipse cx="1532.9" cy="167.1" rx="2.9" ry="3.5"/><ellipse cx="1429.4" cy="294.7" rx="2.9" ry="3.5"/><ellipse cx="1432.2" cy="283.8" rx="2.9" ry="3.5"/><ellipse cx="1442.7" cy="282.7" rx="2.9" ry="3.5"/><ellipse cx="1445.5" cy="271.8" rx="2.9" ry="3.5"/><ellipse cx="1456.0" cy="270.7" rx="2.9" ry="3.5"/><ellipse cx="1458.8" cy="259.8" rx="2.9" ry="3.5"/><ellipse cx="1469.3" cy="258.7" rx="2.9" ry="3.5"/><ellipse cx="1472.1" cy="247.8" rx="2.9" ry="3.5"/><ellipse cx="1482.6" cy="246.7" rx="2.9" ry="3.5"/><ellipse cx="1485.4" cy="235.8" rx="2.9" ry="3.5"/><ellipse cx="1495.9" cy="234.7" rx="2.9" ry="3.5"/><ellipse cx="1498.7" cy="223.8" rx="2.9" ry="3.5"/><ellipse cx="1509.2" cy="222.7" rx="2.9" ry="3.5"/><ellipse cx="1512.0" cy="211.8" rx="2.9" ry="3.5"/><ellipse cx="1522.5" cy="210.7" rx="2.9" ry="3.5"/><ellipse cx="1525.3" cy="199.8" rx="2.9" ry="3.5"/><ellipse cx="1535.8" cy="198.7" rx="2.9" ry="3.5"/><ellipse cx="1538.6" cy="187.8" rx="2.9" ry="3.5"/><ellipse cx="1435.1" cy="315.4" rx="2.9" ry="3.5"/><ellipse cx="1437.9" cy="304.5" rx="2.9" ry="3.5"/><ellipse cx="1448.4" cy="303.4" rx="2.9" ry="3.5"/><ellipse cx="1451.2" cy="292.5" rx="2.9" ry="3.5"/><ellipse cx="1461.7" cy="291.4" rx="2.9" ry="3.5"/><ellipse cx="1464.5" cy="280.5" rx="2.9" ry="3.5"/><ellipse cx="1475.0" cy="279.4" rx="2.9" ry="3.5"/><ellipse cx="1477.8" cy="268.5" rx="2.9" ry="3.5"/><ellipse cx="1488.3" cy="267.4" rx="2.9" ry="3.5"/><ellipse cx="1491.1" cy="256.5" rx="2.9" ry="3.5"/><ellipse cx="1501.6" cy="255.4" rx="2.9" ry="3.5"/><ellipse cx="1504.4" cy="244.5" rx="2.9" ry="3.5"/><ellipse cx="1514.9" cy="243.4" rx="2.9" ry="3.5"/><ellipse cx="1517.7" cy="232.5" rx="2.9" ry="3.5"/><ellipse cx="1528.2" cy="231.4" rx="2.9" ry="3.5"/><ellipse cx="1531.0" cy="220.5" rx="2.9" ry="3.5"/><ellipse cx="1541.5" cy="219.4" rx="2.9" ry="3.5"/><ellipse cx="1544.3" cy="208.5" rx="2.9" ry="3.5"/><ellipse cx="1440.8" cy="336.1" rx="2.9" ry="3.5"/><ellipse cx="1443.6" cy="325.2" rx="2.9" ry="3.5"/><ellipse cx="1454.1" cy="324.1" rx="2.9" ry="3.5"/><ellipse cx="1456.9" cy="313.2" rx="2.9" ry="3.5"/><ellipse cx="1467.4" cy="312.1" rx="2.9" ry="3.5"/><ellipse cx="1470.2" cy="301.2" rx="2.9" ry="3.5"/><ellipse cx="1480.7" cy="300.1" rx="2.9" ry="3.5"/><ellipse cx="1483.5" cy="289.2" rx="2.9" ry="3.5"/><ellipse cx="1494.0" cy="288.1" rx="2.9" ry="3.5"/><ellipse cx="1496.8" cy="277.2" rx="2.9" ry="3.5"/><ellipse cx="1507.3" cy="276.1" rx="2.9" ry="3.5"/><ellipse cx="1510.1" cy="265.2" rx="2.9" ry="3.5"/><ellipse cx="1520.6" cy="264.1" rx="2.9" ry="3.5"/><ellipse cx="1523.4" cy="253.2" rx="2.9" ry="3.5"/><ellipse cx="1533.9" cy="252.1" rx="2.9" ry="3.5"/><ellipse cx="1536.7" cy="241.2" rx="2.9" ry="3.5"/><ellipse cx="1547.2" cy="240.1" rx="2.9" ry="3.5"/><ellipse cx="1550.0" cy="229.2" rx="2.9" ry="3.5"/><ellipse cx="1446.5" cy="356.8" rx="2.9" ry="3.5"/><ellipse cx="1449.3" cy="345.9" rx="2.9" ry="3.5"/><ellipse cx="1459.8" cy="344.8" rx="2.9" ry="3.5"/><ellipse cx="1462.6" cy="333.9" rx="2.9" ry="3.5"/><ellipse cx="1473.1" cy="332.8" rx="2.9" ry="3.5"/><ellipse cx="1475.9" cy="321.9" rx="2.9" ry="3.5"/><ellipse cx="1486.4" cy="320.8" rx="2.9" ry="3.5"/><ellipse cx="1489.2" cy="309.9" rx="2.9" ry="3.5"/><ellipse cx="1499.7" cy="308.8" rx="2.9" ry="3.5"/><ellipse cx="1502.5" cy="297.9" rx="2.9" ry="3.5"/><ellipse cx="1513.0" cy="296.8" rx="2.9" ry="3.5"/><ellipse cx="1515.8" cy="285.9" rx="2.9" ry="3.5"/><ellipse cx="1526.3" cy="284.8" rx="2.9" ry="3.5"/><ellipse cx="1529.1" cy="273.9" rx="2.9" ry="3.5"/><ellipse cx="1539.6" cy="272.8" rx="2.9" ry="3.5"/><ellipse cx="1542.4" cy="261.9" rx="2.9" ry="3.5"/><ellipse cx="1552.9" cy="260.8" rx="2.9" ry="3.5"/><ellipse cx="1555.7" cy="249.9" rx="2.9" ry="3.5"/><ellipse cx="1452.2" cy="377.5" rx="2.9" ry="3.5"/><ellipse cx="1455.0" cy="366.6" rx="2.9" ry="3.5"/><ellipse cx="1465.5" cy="365.5" rx="2.9" ry="3.5"/><ellipse cx="1468.3" cy="354.6" rx="2.9" ry="3.5"/><ellipse cx="1478.8" cy="353.5" rx="2.9" ry="3.5"/><ellipse cx="1481.6" cy="342.6" rx="2.9" ry="3.5"/><ellipse cx="1492.1" cy="341.5" rx="2.9" ry="3.5"/><ellipse cx="1494.9" cy="330.6" rx="2.9" ry="3.5"/><ellipse cx="1505.4" cy="329.5" rx="2.9" ry="3.5"/><ellipse cx="1508.2" cy="318.6" rx="2.9" ry="3.5"/><ellipse cx="1518.7" cy="317.5" rx="2.9" ry="3.5"/><ellipse cx="1521.5" cy="306.6" rx="2.9" ry="3.5"/><ellipse cx="1532.0" cy="305.5" rx="2.9" ry="3.5"/><ellipse cx="1534.8" cy="294.6" rx="2.9" ry="3.5"/><ellipse cx="1545.3" cy="293.5" rx="2.9" ry="3.5"/><ellipse cx="1548.1" cy="282.6" rx="2.9" ry="3.5"/><ellipse cx="1558.6" cy="281.5" rx="2.9" ry="3.5"/><ellipse cx="1561.4" cy="270.6" rx="2.9" ry="3.5"/><ellipse cx="1460.7" cy="387.3" rx="2.9" ry="3.5"/><ellipse cx="1471.2" cy="386.2" rx="2.9" ry="3.5"/><ellipse cx="1474.0" cy="375.3" rx="2.9" ry="3.5"/><ellipse cx="1484.5" cy="374.2" rx="2.9" ry="3.5"/><ellipse cx="1487.3" cy="363.3" rx="2.9" ry="3.5"/><ellipse cx="1497.8" cy="362.2" rx="2.9" ry="3.5"/><ellipse cx="1500.6" cy="351.3" rx="2.9" ry="3.5"/><ellipse cx="1511.1" cy="350.2" rx="2.9" ry="3.5"/><ellipse cx="1513.9" cy="339.3" rx="2.9" ry="3.5"/><ellipse cx="1524.4" cy="338.2" rx="2.9" ry="3.5"/><ellipse cx="1527.2" cy="327.3" rx="2.9" ry="3.5"/><ellipse cx="1537.7" cy="326.2" rx="2.9" ry="3.5"/><ellipse cx="1540.5" cy="315.3" rx="2.9" ry="3.5"/><ellipse cx="1551.0" cy="314.2" rx="2.9" ry="3.5"/><ellipse cx="1553.8" cy="303.3" rx="2.9" ry="3.5"/><ellipse cx="1564.3" cy="302.2" rx="2.9" ry="3.5"/><ellipse cx="1567.1" cy="291.3" rx="2.9" ry="3.5"/></g>
<line x1="1081" y1="152" x2="1174.5" y2="196" stroke="#231815" stroke-width="8.5"/>
<line x1="1191" y1="240" x2="1120" y2="334" stroke="#231815" stroke-width="8.5"/>
<path fill-rule="evenodd" fill="#ff0000" d="M1200.7 189.4 C1215.5 189.4 1223.7 199 1223.7 212.5 C1223.7 226 1215.5 235.7 1200.7 235.7 C1185.9 235.7 1177.7 226 1177.7 212.5 C1177.7 199 1185.9 189.4 1200.7 189.4 Z M1200.8 200.1 C1195.3 200.1 1191.8 204.5 1191.8 212.9 C1191.8 221.3 1195.3 225.6 1200.8 225.6 C1206.3 225.6 1209.8 221.3 1209.8 212.9 C1209.8 204.5 1206.3 200.1 1200.8 200.1 Z"/>
<g stroke="#000" stroke-width="2.4" fill="none" stroke-linejoin="miter"><path d="M1281.5 156 L1302 156 L1313 134.6 L1331.5 134.6"/><path d="M1302 156 Q1312 150 1325 149.6 L1343.5 149.6"/><path d="M1302 156 L1313 178 L1331.5 178"/></g>
<g font-family="'Liberation Sans',Arial,sans-serif" font-size="17.5" fill="#000"><text x="1249.5" y="163.5">H<tspan font-size="12" dy="3">2</tspan><tspan dy="-3">N</tspan></text><text x="1332" y="140.5">OH</text><text x="1344" y="155.8">OH</text><text x="1332" y="184">OH</text></g>
<text transform="translate(1274.95,223.36) scale(1.0363,0.9767)" font-family="'Liberation Sans',Arial,sans-serif" font-size="23" font-weight="normal" font-style="normal" fill="#000">(TRIS)</text>
<text transform="translate(1283.68,292.60) scale(1.0592,1.0727)" font-family="'Liberation Sans',Arial,sans-serif" font-size="24" font-weight="normal" font-style="normal" fill="#000">R. T.</text>
<path d="M1249 242 L1333 242 L1325.4 233.2 L1402.5 245.3 L1325.4 258.2 L1333 248.8 L1249 248.8 Z" fill="#3a2e2e"/>
<text transform="translate(1126.46,399.75) scale(1.0286,0.9882)" font-family="'Liberation Sans',Arial,sans-serif" font-size="30" font-weight="normal" font-style="normal" fill="#000">GO</text>
<text transform="translate(1508.22,400.74) scale(1.0346,1.0353)" font-family="'Liberation Sans',Arial,sans-serif" font-size="30" font-weight="normal" font-style="normal" fill="#000">TRIS-GO</text>
<line x1="1454" y1="187" x2="1540" y2="167" stroke="#231815" stroke-width="8.5"/>
<line x1="1483" y1="282" x2="1589" y2="289" stroke="#231815" stroke-width="8.5"/>
<text transform="translate(1587.5,300.2) scale(1.02,1)" font-family="'Liberation Sans',Arial,sans-serif" font-size="27" font-weight="bold"><tspan fill="#ff0000" stroke="#ff0000" stroke-width="1">O</tspan><tspan fill="#000" stroke="#000" stroke-width="0.6">H</tspan></text>
<defs><radialGradient id="nsph" cx="0.5" cy="0.5" r="0.5"><stop offset="0" stop-color="#9cd4f2"/><stop offset="0.3" stop-color="#4ab8e4"/><stop offset="0.55" stop-color="#16a2d8"/><stop offset="0.8" stop-color="#0c8ed4"/><stop offset="0.94" stop-color="#0a76c6"/><stop offset="1" stop-color="#2a98d8"/></radialGradient></defs>
<ellipse cx="1563.8" cy="163.7" rx="27.7" ry="28.1" fill="url(#nsph)"/>
<text transform="translate(1563.5,173.5) scale(1.22,1)" font-family="'Liberation Sans',Arial,sans-serif" font-size="25" font-weight="bold" fill="#0b2a8a" stroke="#0b2a8a" stroke-width="0.8" text-anchor="middle">N</text>
<g stroke="#231815" stroke-width="4.6" fill="none" stroke-linejoin="round"><path d="M1590 164.2 L1606.5 164.2"/><path d="M1606.5 164.2 Q1611 148 1617 140.2 L1646.6 129"/><path d="M1606.5 164.2 L1633.5 161 L1654.4 168.3"/><path d="M1606.5 164.2 Q1611 178 1616 185 L1643.4 200"/></g>
<text x="1649.3" y="131.8" font-family="'Liberation Sans',Arial,sans-serif" font-size="15.5" font-weight="bold" fill="#ff0000" stroke="#ff0000" stroke-width="0.9">O</text>
<text transform="translate(1662.5,129.3) rotate(-8)" font-family="'Liberation Sans',Arial,sans-serif" font-size="15.5" font-weight="bold" fill="#000" stroke="#000" stroke-width="0.6">H</text>
<text x="1658.2" y="176.1" font-family="'Liberation Sans',Arial,sans-serif" font-size="15.5" font-weight="bold" fill="#ff0000" stroke="#ff0000" stroke-width="0.9">O</text>
<text transform="translate(1671,175.6) rotate(0)" font-family="'Liberation Sans',Arial,sans-serif" font-size="15.5" font-weight="bold" fill="#000" stroke="#000" stroke-width="0.6">H</text>
<text x="1646.3" y="208.4" font-family="'Liberation Sans',Arial,sans-serif" font-size="15.5" font-weight="bold" fill="#ff0000" stroke="#ff0000" stroke-width="0.9">O</text>
<text transform="translate(1659.5,212.6) rotate(8)" font-family="'Liberation Sans',Arial,sans-serif" font-size="15.5" font-weight="bold" fill="#000" stroke="#000" stroke-width="0.6">H</text>
<text transform="translate(1115.52,477.72) scale(1.0342,1.0406)" font-family="'Liberation Serif','Times New Roman',serif" font-size="38" font-weight="normal" font-style="italic" fill="#000">Element Analysis (wt%)</text>
<rect x="1026.6" y="506.7" width="212" height="123" fill="none" stroke="#000" stroke-width="2.7"/>
<rect x="1418.2" y="506.7" width="216.3" height="124.8" fill="none" stroke="#000" stroke-width="2.7"/>
<text transform="translate(1053.88,547.69) scale(0.9821,1.0296)" font-family="'Liberation Serif','Times New Roman',serif" font-size="40" font-weight="normal" font-style="normal" fill="#000">C: 43.53%</text>
<text transform="translate(1052.65,617.08) scale(0.9995,1.0481)" font-family="'Liberation Serif','Times New Roman',serif" font-size="40" font-weight="normal" font-style="normal" fill="#000">N: 0%</text>
<text transform="translate(1441.07,548.37) scale(0.9869,1.0593)" font-family="'Liberation Serif','Times New Roman',serif" font-size="40" font-weight="normal" font-style="normal" fill="#000">C: 46.18%</text>
<text transform="translate(1442.17,617.67) scale(0.9831,1.0593)" font-family="'Liberation Serif','Times New Roman',serif" font-size="40" font-weight="normal" font-style="normal" fill="#000">N: 1.40%</text>
<path d="M263.0,1098.9 L267.1,1098.9 L279.5,1089.2 L285.0,1083.7 L293.2,1085.1 L300.1,1065.9 L305.6,1082.4 L312.5,1096.1 L320.7,1107.1 L324.8,1087.9 L329.0,1064.5 L333.1,1075.5 L338.6,1079.6 L345.4,1076.9 L356.4,1076.9 L364.7,1075.5 L370.2,1054.9 L375.7,1035.6 L383.9,1016.4 L392.2,997.2 L397.7,972.4 L403.2,939.4 L407.3,928.4 L411.4,909.2 L416.9,876.2 L422.4,851.5 L427.9,835.0 L432.0,837.7 L436.2,862.5 L443.0,887.2 L447.2,879.0 L452.6,865.2 L458.1,865.2 L462.3,884.5 L466.4,911.9 L471.9,944.9 L476.0,977.9 L481.5,988.9 L487.0,1010.9 L492.5,1035.6 L496.6,1052.1 L502.1,1052.1 L504.9,1038.4 L509.0,1026.0 L514.5,1035.6 L521.4,1052.1 L526.9,1065.9 L532.4,1074.1 L540.6,1074.1 L550.2,1079.6 L555.7,1071.4 L561.2,1060.4 L566.7,1050.8 L573.6,1052.1 L577.7,1060.4 L583.2,1060.4 L587.3,1049.4 L592.8,1027.4 L598.3,1010.9 L603.8,1010.9 L609.3,1021.9 L614.8,1043.9 L618.9,1052.1 L625.8,1048.0 L636.8,1048.0 L642.3,1052.1 L647.8,1057.6" fill="none" stroke="#ec882c" stroke-width="2.9" stroke-dasharray="0.1 6.1" stroke-linecap="round"/>
<line x1="263" y1="1118.5" x2="650" y2="1118.5" stroke="#000" stroke-width="3.4"/>
<line x1="287.3" y1="1118.5" x2="287.3" y2="1126.5" stroke="#000" stroke-width="3"/>
<text transform="translate(271.24,1147.60) scale(1.0276,1.2073)" font-family="'Liberation Serif','Times New Roman',serif" font-size="21" font-weight="bold" font-style="normal" fill="#000">414</text>
<line x1="323.4" y1="1118.5" x2="323.4" y2="1123.5" stroke="#000" stroke-width="3"/>
<line x1="359.5" y1="1118.5" x2="359.5" y2="1126.5" stroke="#000" stroke-width="3"/>
<text transform="translate(343.44,1147.31) scale(1.0361,1.1649)" font-family="'Liberation Serif','Times New Roman',serif" font-size="21" font-weight="bold" font-style="normal" fill="#000">408</text>
<line x1="395.6" y1="1118.5" x2="395.6" y2="1123.5" stroke="#000" stroke-width="3"/>
<line x1="431.7" y1="1118.5" x2="431.7" y2="1126.5" stroke="#000" stroke-width="3"/>
<text transform="translate(415.64,1147.31) scale(1.0446,1.1649)" font-family="'Liberation Serif','Times New Roman',serif" font-size="21" font-weight="bold" font-style="normal" fill="#000">402</text>
<line x1="467.8" y1="1118.5" x2="467.8" y2="1123.5" stroke="#000" stroke-width="3"/>
<line x1="503.9" y1="1118.5" x2="503.9" y2="1126.5" stroke="#000" stroke-width="3"/>
<text transform="translate(487.31,1147.30) scale(1.0533,1.1857)" font-family="'Liberation Serif','Times New Roman',serif" font-size="21" font-weight="bold" font-style="normal" fill="#000">396</text>
<line x1="540.0" y1="1118.5" x2="540.0" y2="1123.5" stroke="#000" stroke-width="3"/>
<line x1="576.1" y1="1118.5" x2="576.1" y2="1126.5" stroke="#000" stroke-width="3"/>
<text transform="translate(559.51,1147.31) scale(1.0533,1.1649)" font-family="'Liberation Serif','Times New Roman',serif" font-size="21" font-weight="bold" font-style="normal" fill="#000">390</text>
<line x1="612.2" y1="1118.5" x2="612.2" y2="1123.5" stroke="#000" stroke-width="3"/>
<line x1="648.3" y1="1118.5" x2="648.3" y2="1126.5" stroke="#000" stroke-width="3"/>
<text transform="translate(631.72,1147.31) scale(1.0446,1.1649)" font-family="'Liberation Serif','Times New Roman',serif" font-size="21" font-weight="bold" font-style="normal" fill="#000">384</text>
<text transform="translate(253.18,958.21) scale(1.0204,0.9851)" font-family="'Liberation Serif','Times New Roman',serif" font-size="50" font-weight="bold" font-style="normal" fill="#000">N 1s</text>
<text transform="translate(399.64,823.74) scale(1.0286,1.0414)" font-family="'Liberation Serif','Times New Roman',serif" font-size="21.5" font-weight="bold" font-style="normal" fill="#000">402.2</text>
<text transform="translate(443.63,851.78) scale(1.0234,0.8897)" font-family="'Liberation Serif','Times New Roman',serif" font-size="21.5" font-weight="bold" font-style="normal" fill="#000">399.8</text>
<path d="M225.00,380.3 L225.07,382.3 L225.64,382.6 L226.22,380.1 L226.80,385.0 L227.38,381.6 L227.96,382.7 L227.96,383.0 L228.68,398.9 L228.68,399.2 L229.41,400.1 L230.13,402.6 L230.85,401.2 L231.58,406.4 L232.30,408.0 L233.02,411.4 L233.60,418.7 L234.18,413.4 L234.76,415.5 L235.34,421.0 L235.92,421.0 L236.64,413.6 L237.37,415.1 L238.09,407.9 L238.81,413.1 L239.54,410.5 L239.54,410.5 L240.98,430.8 L240.98,431.2 L241.56,432.5 L242.14,435.5 L242.72,432.5 L243.30,433.1 L243.88,435.8 L244.60,431.8 L245.33,434.0 L245.33,433.7 L247.50,456.8 L247.50,453.9 L248.22,452.3 L248.94,450.7 L249.67,447.5 L250.39,449.8 L251.11,447.7 L251.11,448.1 L253.29,474.2 L253.29,474.2 L253.29,474.2 L255.46,451.0 L255.46,451.0 L255.46,451.0 L256.90,468.4 L256.90,466.0 L257.63,464.8 L258.35,460.4 L259.07,456.3 L259.07,453.9 L261.24,484.3 L261.24,484.3 L261.24,484.3 L262.69,456.8 L262.69,457.3 L263.42,458.7 L264.14,456.2 L264.86,459.2 L264.86,459.7 L266.31,497.4 L266.31,497.8 L266.89,501.9 L267.47,495.7 L268.05,503.5 L268.63,499.6 L269.20,499.7 L269.78,497.7 L270.36,499.5 L270.94,494.5 L271.52,493.4 L272.10,497.7 L272.82,491.6 L273.55,495.0 L274.27,494.3 L274.99,499.1 L275.72,501.2 L276.44,510.1 L277.02,504.7 L277.60,507.3 L278.18,507.4 L278.76,500.5 L279.33,502.4 L279.33,501.7 L281.51,526.3 L281.51,526.3 L281.51,526.3 L283.68,507.5 L283.68,508.2 L284.25,510.5 L284.83,508.0 L285.41,508.9 L285.99,509.7 L286.57,518.3 L287.15,513.3 L287.73,520.8 L288.31,517.4 L288.89,525.4 L289.46,520.6 L290.04,524.2 L290.62,515.4 L291.20,522.1 L291.78,516.6 L292.36,515.9 L292.94,522.1 L293.52,517.6 L294.10,526.3 L294.67,523.3 L295.25,522.9 L295.83,530.8 L296.41,528.2 L296.99,529.5 L297.57,535.5 L298.15,534.8 L298.73,539.5 L299.31,541.9 L299.88,538.4 L300.46,542.8 L301.04,534.5 L301.62,544.5 L302.20,541.8 L302.78,537.7 L303.36,542.9 L303.94,542.8 L304.52,537.7 L305.09,542.6 L305.67,537.9 L306.25,542.0 L306.83,536.5 L307.41,543.8 L307.99,539.0 L308.57,540.1 L309.15,539.6 L309.73,547.5 L310.45,544.8 L311.17,553.6 L311.90,558.0 L312.62,555.4 L313.34,552.6 L314.07,545.9 L314.67,546.5 L315.27,540.5 L315.88,544.6 L316.48,537.1 L317.08,534.4 L317.68,536.1 L317.68,535.0 L320.58,565.4 L320.58,564.4 L321.18,567.1 L321.78,559.2 L322.39,562.2 L322.99,560.0 L323.59,552.4 L324.20,556.9 L324.78,548.8 L325.35,550.8 L325.93,542.3 L326.51,546.5 L327.09,540.6 L327.81,548.0 L328.54,552.8 L329.26,551.9 L329.86,551.4 L330.47,553.0 L331.07,541.4 L331.67,545.4 L332.28,539.3 L332.88,542.5 L333.46,538.5 L334.04,543.9 L334.62,541.7 L335.20,548.6 L335.77,543.7 L336.39,545.9 L337.01,542.9 L337.63,549.1 L338.26,548.1 L338.88,541.0 L339.50,546.3 L340.12,544.3 L340.72,544.0 L341.32,550.6 L341.92,547.2 L342.53,554.6 L343.13,552.5 L343.73,557.5 L344.46,553.6 L345.18,549.1 L345.90,554.1 L346.63,553.2 L347.35,563.7 L348.08,564.3 L348.68,565.2 L349.28,567.7 L349.88,561.1 L350.49,561.7 L351.09,561.8 L351.69,566.1 L352.31,564.9 L352.93,560.0 L353.55,566.1 L354.17,559.2 L354.79,564.8 L355.41,557.5 L356.03,562.4 L356.61,553.4 L357.19,555.6 L357.77,547.0 L358.35,547.7 L358.93,543.9 L359.65,542.7 L360.38,548.7 L361.10,547.6 L361.72,550.8 L362.34,542.6 L362.96,543.3 L363.58,541.1 L364.20,541.6 L364.82,534.7 L365.44,534.0 L366.16,537.2 L366.89,533.6 L367.61,540.3 L368.20,539.0 L368.79,541.2 L369.38,547.3 L369.98,551.2 L370.59,552.3 L371.20,560.8 L371.81,560.5 L372.41,564.6 L372.41,566.6 L374.44,601.0 L374.44,601.0 L374.44,601.0 L376.47,641.6 L376.47,641.7 L377.05,644.4 L377.62,640.1 L378.20,644.7 L378.78,640.0 L379.36,645.5 L379.94,645.6 L380.52,643.4 L380.52,643.6 L383.56,682.1 L383.56,682.1 L383.56,682.1 L385.58,714.5 L385.58,716.1 L386.19,719.5 L386.80,713.6 L387.41,719.3 L388.01,715.8 L388.62,722.3 L389.20,716.7 L389.78,721.0 L390.36,725.5 L390.94,720.6 L391.52,728.0 L392.10,722.7 L392.67,725.8 L392.67,728.7 L393.69,740.8 L393.69,741.7 L394.25,744.2 L394.81,743.2 L395.38,745.8 L395.94,740.1 L396.50,740.8 L397.06,741.4 L397.63,748.7 L398.19,743.3 L398.75,746.1 L399.31,741.9 L399.88,745.0 L400.44,747.7 L401.00,743.4 L401.57,750.0 L402.13,747.0 L402.69,753.5 L403.25,752.0 L403.82,747.8 L404.38,746.0 L404.94,753.4 L405.51,749.2 L406.07,756.3 L406.63,755.9 L407.19,757.7 L407.76,750.6 L408.32,758.6 L408.88,754.8 L409.43,754.8 L409.99,749.0 L410.54,754.6 L411.09,751.0 L411.64,749.3 L412.20,753.9 L412.75,748.3 L413.30,754.3 L413.85,745.8 L414.41,745.3 L414.96,744.1 L415.51,752.1 L416.06,745.3 L416.62,752.2 L417.17,745.1 L417.72,751.0 L418.27,744.4 L418.83,743.6 L419.38,748.0 L419.93,743.3 L420.48,746.0 L421.04,744.0 L421.04,742.9 L424.08,769.2 L424.08,767.0 L424.63,768.1 L425.19,764.4 L425.75,768.4 L426.30,762.9 L426.86,761.4 L427.42,759.7 L427.98,766.2 L428.53,757.3 L429.09,764.1 L429.65,757.3 L430.20,761.1 L430.76,754.4 L431.32,756.6 L431.88,750.1 L432.43,755.5 L432.99,752.1 L433.55,754.7 L434.10,746.1 L434.66,752.3 L435.22,745.1 L435.79,747.2 L436.35,754.4 L436.92,747.8 L437.49,749.7 L438.06,755.0 L438.62,751.9 L439.19,757.8 L439.76,760.9 L440.32,755.5 L440.89,762.2 L441.46,755.3 L442.03,764.9 L442.59,759.7 L443.16,766.3 L443.73,763.5 L444.29,771.1 L444.86,765.4 L445.43,770.1 L446.00,766.2 L446.56,775.5 L447.13,770.7 L447.70,775.9 L448.27,776.7 L448.83,770.6 L449.40,777.1 L449.95,772.5 L450.51,770.6 L451.06,775.1 L451.61,770.1 L452.16,775.6 L452.72,775.1 L453.27,775.4 L453.82,767.0 L454.37,773.9 L454.93,763.8 L455.48,763.7 L456.03,768.0 L456.58,763.2 L457.14,767.1 L457.69,764.8 L458.24,759.4 L458.79,766.3 L459.35,764.0 L459.90,762.1 L460.45,756.6 L461.00,762.8 L461.56,758.5 L462.13,757.0 L462.71,765.3 L463.29,754.6 L463.87,766.7 L464.45,762.5 L465.03,769.3 L465.61,762.6 L466.19,772.3 L466.77,769.9 L467.34,778.1 L467.92,778.7 L468.50,781.5 L469.08,774.9 L469.66,781.7 L470.21,781.2 L470.76,774.7 L471.32,783.1 L471.87,777.7 L472.42,781.0 L472.97,773.8 L473.53,778.9 L474.08,775.1 L474.63,772.0 L475.18,779.1 L475.74,771.1 L476.29,777.7 L476.84,763.9 L477.40,774.3 L477.95,767.1 L478.50,773.3 L479.05,769.5 L479.61,772.6 L480.16,772.1 L480.71,764.4 L481.26,773.3 L481.82,767.7 L482.37,768.0 L482.92,774.7 L483.47,767.1 L484.03,767.5 L484.58,776.9 L485.13,773.3 L485.68,779.3 L486.24,775.0 L486.79,775.6 L487.34,775.9 L487.89,785.0 L488.45,778.1 L489.00,780.1 L489.55,784.9 L490.10,783.3 L490.66,788.3 L491.21,785.6 L491.76,793.3 L492.31,786.9 L492.87,795.0 L493.42,787.5 L493.97,794.3 L494.55,787.6 L495.13,793.0 L495.71,785.3 L496.29,790.0 L496.87,791.1 L497.44,782.9 L498.02,789.8 L498.60,779.3 L499.18,780.3 L499.76,783.3 L500.34,777.4 L500.92,782.8 L501.50,773.1 L502.07,778.5 L502.63,772.3 L503.18,778.3 L503.73,776.0 L504.28,770.5 L504.84,772.9 L505.39,775.3 L505.94,770.5 L506.49,771.7 L507.05,773.7 L507.60,773.9 L508.15,769.7 L508.70,776.9 L509.26,769.9 L509.81,773.2 L510.36,773.4 L510.91,777.2 L511.47,767.1 L512.02,774.0 L512.57,765.7 L513.13,774.6 L513.68,772.1 L514.23,767.8 L514.79,773.1 L515.36,769.5 L515.92,777.5 L516.48,773.1 L517.04,779.0 L517.61,774.8 L518.17,774.1 L518.73,780.5 L519.29,776.3 L519.86,780.7 L520.42,783.9 L520.98,780.0 L521.55,787.7 L522.11,785.1 L522.67,789.3 L523.23,786.1 L523.80,790.9 L524.36,784.6 L524.94,787.3 L525.52,784.7 L526.10,778.9 L526.68,781.5 L527.25,780.5 L527.83,769.0 L528.41,775.8 L528.96,773.1 L529.52,768.3 L530.07,773.4 L530.62,769.6 L531.17,775.5 L531.73,772.0 L532.28,777.4 L532.83,772.3 L533.38,778.0 L533.94,777.2 L534.49,782.2 L535.04,778.3 L535.59,783.8 L536.15,780.8 L536.70,786.5 L537.25,787.1 L537.80,790.0 L538.36,784.6 L538.91,792.2 L539.46,779.9 L540.01,792.1 L540.57,784.6 L541.15,791.3 L541.73,788.8 L542.31,791.0 L542.89,785.6 L543.47,792.4 L544.05,785.5 L544.63,791.1 L545.21,782.2 L545.79,790.3 L546.37,784.6 L546.95,790.0 L547.52,785.0 L548.10,788.7 L548.68,786.5 L549.26,790.7 L549.84,786.9 L550.42,787.8 L551.00,793.5 L551.58,788.3 L552.15,793.2 L552.73,796.4 L553.31,789.7 L553.89,790.5 L554.47,799.5 L555.05,796.3 L555.63,793.2 L556.21,801.5 L556.79,794.9 L557.36,803.9 L557.94,798.5 L558.52,799.3 L559.10,803.8 L559.68,798.8 L560.26,799.1 L560.84,804.8 L561.42,796.4 L561.99,797.6 L562.57,802.1 L563.15,794.2 L563.73,796.3 L564.31,790.2 L564.89,793.1 L565.47,787.9 L566.05,787.1 L566.05,779.9 L567.78,805.1 L567.78,803.1 L568.36,803.6 L568.94,797.1 L569.52,798.7 L570.10,798.6 L570.68,803.6 L571.26,794.3 L571.83,795.4 L572.41,799.8 L572.99,794.9 L573.57,799.5 L574.15,794.4 L574.73,794.2 L575.31,790.9 L575.89,799.5 L576.46,800.7 L577.04,798.9 L577.62,788.5 L578.20,799.9 L578.78,795.5 L579.36,803.3 L579.94,795.9 L580.52,803.1 L581.10,797.2 L581.67,802.6 L582.23,798.7 L582.79,803.3 L583.35,796.7 L583.91,803.4 L584.46,799.0 L585.02,791.8 L585.58,799.3 L586.14,790.8 L586.70,794.8 L587.26,793.6 L587.81,787.9 L588.37,795.5 L588.93,788.0 L589.49,795.4 L590.07,788.1 L590.65,794.3 L591.22,788.3 L591.80,798.1 L592.38,792.7 L592.96,803.7 L593.54,795.8 L594.12,804.5 L594.70,802.7 L595.32,802.8 L595.94,802.2 L596.56,797.4 L597.18,792.6 L597.80,795.3 L598.42,788.5 L599.04,791.9 L599.62,785.7 L600.20,782.4 L600.77,781.6 L601.35,787.4 L601.93,780.6 L602.51,786.4 L603.09,788.2 L603.67,779.8 L604.25,784.6 L604.25,784.2 L611.19,810.3 L611.19,804.9 L611.77,808.0 L612.35,798.6 L612.93,803.0 L613.51,797.6 L614.09,798.3 L614.67,791.7 L615.24,797.3 L615.82,789.4 L616.40,793.8 L616.98,786.6 L617.56,791.3 L618.14,786.1 L618.72,787.0 L619.30,793.2 L619.87,792.8 L620.45,789.0 L621.03,796.4 L621.61,792.3 L622.19,796.7 L622.77,791.2 L623.35,798.0 L623.93,797.6 L624.51,791.7 L625.08,798.8 L625.66,796.5 L626.24,790.9 L626.82,798.4 L627.40,789.3 L627.98,794.1 L628.56,786.9 L629.14,784.2 L629.71,784.7 L630.29,786.5 L630.87,790.4 L631.45,788.1 L632.03,783.7 L632.61,787.4 L633.19,782.1 L633.77,782.1 L634.35,791.2 L634.92,790.7 L635.50,783.7 L636.08,787.2 L636.66,783.1 L637.24,787.4 L637.82,784.2 L638.40,789.0 L638.98,784.2 L639.55,791.6 L640.13,789.2 L640.71,785.9 L641.29,784.2 L641.87,791.2 L642.45,786.5 L643.03,791.3 L643.61,785.4 L644.18,788.9 L644.76,790.9 L645.34,790.1 L645.92,782.5 L646.50,789.1 L647.08,783.6 L647.66,787.8 L648.28,783.6 L648.90,787.6 L649.52,785.0 L650.14,791.1 L650.76,788.9 L651.38,796.3 L652.00,790.9 L652.55,797.4 L653.10,791.3 L653.66,798.0 L654.21,791.6 L654.76,793.1 L655.31,795.5 L655.87,788.7 L656.42,795.9 L656.97,795.4 L657.52,785.4 L658.08,790.2 L658.73,782.6 L659.38,777.7 L660.03,778.5 L660.68,783.2 L661.30,773.9 L661.92,781.4 L662.54,778.5 L663.16,773.7 L663.78,774.9 L664.40,775.9 L665.02,770.6 L665.67,766.0 L666.32,770.7 L666.98,769.0 L667.63,765.6 L668.21,770.7 L668.78,763.5 L669.36,766.6 L669.98,772.1 L670.60,768.9 L671.22,774.5 L671.84,768.2 L672.46,776.3 L673.08,771.0 L673.70,780.0 L674.28,776.8 L674.86,783.5 L675.44,778.8 L676.02,781.6 L676.60,790.9 L677.18,781.3 L677.80,795.4 L678.42,793.6 L679.04,793.5 L679.66,798.2 L680.28,805.0 L680.90,806.1 L681.52,807.5 L682.17,808.2 L682.82,809.2 L683.47,805.5 L684.12,809.3 L684.74,805.7 L685.36,812.2 L685.98,814.0 L686.60,818.1 L687.22,813.6 L687.84,813.8 L688.46,823.7 L689.11,820.7 L689.77,815.6 L690.42,822.7 L691.07,817.2 L691.07,812.0 L694.54,777.3 L694.54,777.3 L694.54,777.3 L698.88,742.6 L698.88,746.6 L699.46,752.4 L700.04,752.2 L700.62,749.8 L701.20,743.7 L701.78,748.7 L702.35,750.7 L702.35,754.7 L705.83,789.5 L705.83,789.5 L705.83,789.5 L707.56,817.2 L707.56,817.2 L707.56,817.2 L709.30,841.5 L709.30,841.5 L709.30,841.5 L711.90,871.1 L711.90,871.1 L711.90,871.1 L713.64,902.3 L713.64,905.2 L714.22,906.8 L714.80,910.3 L715.38,910.4 L715.96,906.6 L716.54,912.4 L717.11,908.5 L717.69,915.3 L718.27,917.0 L718.85,913.2 L719.43,911.9 L720.01,914.7 L720.59,921.7 L721.17,917.7 L721.74,920.2 L722.32,920.9 L722.90,914.8 L723.48,926.0 L724.06,920.5 L724.71,923.0 L725.36,920.2 L726.01,926.3 L726.66,921.9 L727.28,927.9 L727.90,923.7 L728.52,924.9 L729.14,928.5 L729.77,925.2 L730.39,929.5 L731.01,929.0 L731.58,926.9 L732.16,932.6 L732.74,926.8 L733.32,932.5 L733.90,929.2 L734.48,929.5 L735.06,928.5 L735.64,930.1 L736.21,935.2 L736.79,932.8 L737.37,931.3 L737.95,933.3 L738.53,935.5 L739.11,932.5 L739.69,932.2 L740.27,926.9 L740.85,927.7 L741.42,930.9 L742.00,927.6 L742.58,930.0 L743.16,925.6 L743.74,930.8 L744.32,928.2 L744.90,925.6 L745.48,924.9 L746.05,929.9 L746.63,931.6 L747.21,924.6 L747.79,932.5 L748.37,926.1 L748.95,931.1 L749.53,928.1 L750.11,934.5 L750.68,929.5 L751.26,933.6 L751.84,929.4 L752.40,934.9 L752.95,928.6 L753.50,934.5 L754.06,928.2 L754.61,928.1 L755.16,933.6 L755.72,929.6 L756.27,932.9 L756.82,931.3 L757.38,927.5 L757.93,932.5 L758.48,927.8 L759.04,930.7 L759.59,927.0 L760.14,930.4 L760.70,925.4 L761.27,926.0 L761.83,925.9 L762.40,929.5 L762.97,929.8 L763.54,924.3 L764.11,929.3 L764.68,931.8 L765.25,931.6 L765.81,925.6 L766.38,932.5 L766.95,922.3 L767.52,931.4 L768.09,926.1 L768.66,930.1 L768.66,931.6 L772.64,883.1 L772.64,895.4 L773.27,896.2 L773.91,891.5 L774.55,896.7 L775.19,899.4 L775.82,895.4 L775.82,907.8 L779.01,938.0 L779.01,927.4 L779.64,930.0 L780.28,929.9 L780.92,929.1 L781.55,924.2 L782.19,927.2 L782.76,927.9 L783.33,929.6 L783.90,924.5 L784.47,928.6 L785.03,921.8 L785.60,929.6 L786.17,929.5 L786.74,924.6 L787.31,931.2 L787.88,925.2 L788.45,931.6 L789.01,928.8 L789.58,932.6 L790.15,928.8 L790.72,933.6 L791.29,929.7 L791.86,929.7 L792.43,928.8 L792.99,936.7 L793.56,929.7 L794.13,935.5 L794.69,930.0 L795.26,930.2 L795.82,935.0 L796.38,928.9 L796.94,933.4 L797.50,930.2 L798.06,934.6 L798.63,929.0 L799.19,932.2 L799.75,930.5 L800.31,931.9 L800.87,929.9 L801.44,928.6 L802.00,934.9 L802.56,929.9 L803.12,933.6 L803.68,933.6 L804.28,930.7 L804.88,935.6 L805.48,932.0 L806.07,932.4 L806.67,933.0 L807.27,931.7 L807.86,938.8 L808.46,933.2 L809.02,939.3 L809.57,935.1 L810.13,940.2 L810.69,935.3 L811.25,934.0 L811.80,936.8 L812.36,930.7 L812.92,936.9 L813.48,930.0 L814.03,928.5 L814.59,933.7 L815.15,925.8 L815.70,927.2 L816.26,926.6 L816.82,929.7 L817.38,923.2 L817.93,928.3 L818.49,922.3 L819.05,923.4 L819.61,921.0 L820.17,921.8 L820.73,925.4 L821.29,923.3 L821.85,927.5 L822.41,924.3 L822.98,924.9 L823.54,927.7 L824.10,925.8 L824.66,928.7 L825.22,929.9 L825.79,927.5 L826.35,932.0 L826.91,927.0 L827.47,934.8 L828.03,928.6 L828.60,930.0 L829.16,935.7 L829.72,931.5 L830.28,934.4 L830.84,934.8 L831.41,930.7 L831.97,934.8 L832.53,931.7 L833.09,936.3 L833.65,931.2 L834.22,935.6 L834.78,933.5 L835.34,936.8 L835.90,932.6 L836.46,936.5 L837.02,934.3 L837.59,936.3 L838.15,936.7 L838.71,930.6 L839.27,936.7 L839.83,931.5 L840.40,935.2 L840.96,929.2 L841.52,932.5 L842.08,927.9 L842.64,931.7 L843.21,932.6 L843.77,926.7 L844.33,932.0 L844.89,931.2 L845.45,923.4 L846.02,928.8 L846.58,922.8 L847.14,924.2 L847.70,923.8 L848.26,921.1 L848.86,922.5 L849.46,927.4 L850.05,928.4 L850.65,933.4 L851.25,931.9 L851.85,934.8 L852.44,936.1 L853.04,934.3 L853.61,939.3 L854.18,937.9 L854.75,937.8 L855.31,935.6 L855.88,934.9 L856.45,935.0 L857.02,939.4 L857.59,933.0 L858.16,937.3 L858.73,929.8 L859.29,936.9 L859.86,931.6 L860.43,936.0 L861.00,935.2 L861.56,929.2 L862.11,934.4 L862.67,930.7 L863.23,930.4 L863.79,935.1 L864.34,930.4 L864.90,930.4 L865.46,936.3 L866.01,934.3 L866.57,930.6 L867.13,937.6 L867.69,931.4 L868.24,936.5 L868.80,937.2 L869.36,932.0 L869.92,934.9 L870.47,936.9 L871.03,932.8 L871.59,937.8 L872.14,932.6 L872.71,939.0 L873.28,933.0 L873.85,937.3 L874.42,930.4 L874.99,933.9 L875.56,928.1 L876.12,931.6 L876.69,932.3 L877.26,929.3 L877.83,929.2 L878.40,926.5 L878.97,921.9 L879.54,921.3 L880.11,921.0 L880.67,921.7 L881.23,923.2 L881.79,921.4 L882.35,926.7 L882.91,920.9 L883.48,926.5 L884.04,921.4 L884.60,928.4 L885.16,924.9 L885.72,929.6 L886.29,922.9 L886.85,929.1 L887.41,928.1 L887.97,924.4 L888.53,928.8 L889.10,929.6 L889.66,923.6 L890.29,927.1 L890.93,922.4 L891.57,924.0 L892.21,920.8 L892.84,920.2 L893.42,920.6 L894.00,924.5 L894.58,925.0 L895.16,933.1 L895.74,928.7 L896.32,930.2 L896.89,930.9 L897.47,938.3 L898.05,935.4 L898.63,939.5 L899.21,936.6 L899.78,940.8 L900.35,939.7 L900.92,934.8 L901.48,935.8 L902.05,939.5 L902.62,935.2 L903.19,937.5 L903.76,933.1 L904.33,936.9 L904.90,937.6 L905.47,937.3 L906.03,931.7 L906.60,938.4 L907.17,933.1 L907.81,934.2 L908.44,934.3 L909.08,938.5 L909.72,937.7 L910.36,934.3 L910.95,935.3 L911.55,940.5 L912.15,935.4 L912.74,934.0 L913.34,938.4 L913.94,940.9 L914.53,935.5 L915.13,940.2 L915.69,933.9 L916.26,937.9 L916.82,933.7 L917.38,939.2 L917.94,933.8 L918.50,941.2 L919.06,935.6 L919.63,935.3 L920.19,941.9 L920.75,937.6 L921.31,944.5 L921.87,938.1 L922.44,943.5 L923.00,939.1 L923.56,944.5 L924.12,940.1 L924.68,944.4 L925.28,939.4 L925.88,944.2 L926.48,941.2 L927.07,945.4 L927.67,941.2 L928.27,945.6 L928.86,940.0 L929.46,942.6 L930.02,937.9 L930.57,938.2 L931.13,945.1 L931.69,940.9 L932.25,943.1 L932.80,938.6 L933.36,939.7 L933.92,939.9 L934.48,945.2 L935.03,940.6 L935.59,940.6 L936.15,945.1 L936.70,946.4 L937.26,942.4 L937.82,943.4 L938.38,944.7 L938.93,949.0 L939.49,942.2 L940.05,947.4 L940.60,943.1 L941.20,946.0 L941.80,942.3 L942.40,948.2 L942.99,942.4 L943.59,941.6 L944.19,938.1 L944.78,942.0 L945.38,943.4 L945.95,936.9 L946.52,940.4 L947.09,934.5 L947.66,938.2 L948.22,933.8 L948.79,935.8 L949.36,934.1 L949.91,938.4 L950.46,932.8 L951.01,935.9 L951.57,936.8 L952.12,934.6 L952.67,938.8 L953.22,934.7 L953.77,933.8 L954.32,940.0 L954.87,941.1 L955.42,943.7 L955.97,943.7 L956.53,940.6 L957.12,947.4 L957.72,946.1 L958.32,946.5 L958.91,951.8 L959.48,954.5 L960.05,952.3 L960.62,957.2 L961.19,956.2 L961.76,963.1 L962.33,960.1 L962.89,967.1 L963.53,965.8 L964.17,970.4 L964.80,968.5 L965.44,979.0 L966.08,973.6 L966.72,981.1 L967.35,978.6 L967.99,981.4 L968.63,987.7 L969.26,985.3 L969.84,992.4 L970.42,988.9 L971.00,994.7 L971.58,992.6 L972.16,993.7 L972.74,1001.5 L973.32,994.4 L973.89,996.3 L974.47,999.9 L975.05,1001.6 L975.63,997.3 L976.21,996.2 L976.78,1000.8 L977.35,998.7 L977.93,1002.1 L978.50,1000.9 L978.50,998.0 L979.20,960.0 L979.20,960.0 L979.20,960.0 L980.00,920.0 L980.00,920.0 L980.00,920.0 L981.20,880.0 L981.20,880.0 L981.20,880.0 L982.40,840.0 L982.40,840.0 L982.40,840.0 L982.90,780.0 L982.90,780.0 L982.90,780.0 L983.30,700.0 L983.30,700.0 L983.30,700.0 L983.60,620.0 L983.60,620.0 L983.60,620.0 L984.10,570.0 L984.10,570.0 L984.10,570.0 L984.60,552.0 L984.60,552.0 L984.60,552.0 L985.10,570.0 L985.10,570.0 L985.10,570.0 L985.60,620.0 L985.60,620.0 L985.60,620.0 L985.90,700.0 L985.90,700.0 L985.90,700.0 L986.20,780.0 L986.20,780.0 L986.20,780.0 L986.60,840.0 L986.60,840.0 L986.60,840.0 L987.40,880.0 L987.40,880.0 L987.40,880.0 L987.90,920.0 L987.90,920.0 L987.90,920.0 L988.00,960.0 L988.00,960.0 L988.00,960.0 L988.20,996.5 L988.20,996.5 L988.20,996.5 L990.29,1032.2 L990.29,1023.8 L990.88,1026.7 L991.47,1024.8 L992.06,1021.6 L992.65,1023.8 L992.65,1015.3 L994.53,985.2 L994.53,988.9 L995.09,992.0 L995.66,988.2 L996.22,991.6 L996.79,987.8 L997.35,988.9 L997.35,992.7 L999.24,1020.0 L999.24,1020.0 L999.24,1020.0 L1000.65,1043.5 L1000.65,1045.8 L1001.22,1046.7 L1001.80,1048.6 L1002.37,1042.8 L1002.95,1046.0 L1003.52,1043.0 L1004.10,1046.9 L1004.67,1040.6 L1005.25,1040.6 L1005.82,1041.1 L1006.45,1045.5 L1007.08,1042.1 L1007.71,1045.6 L1008.33,1040.7 L1008.96,1044.9 L1009.59,1041.0 L1010.22,1042.6 L1010.84,1046.9 L1011.47,1044.5 L1012.10,1046.3 L1012.73,1043.2 L1013.35,1046.3 L1013.98,1043.5 L1014.61,1047.4 L1015.24,1045.6 L1015.86,1044.2 L1016.49,1043.8 L1017.12,1044.0 L1017.75,1049.7 L1018.37,1045.0 L1019.00,1045.9 L1019.63,1051.0 L1020.25,1050.2 L1020.88,1048.2 L1021.45,1051.8 L1022.01,1046.3 L1022.58,1050.0 L1023.14,1046.9 L1023.71,1051.4 L1024.27,1046.2 L1024.84,1051.2 L1025.40,1046.4 L1025.96,1048.8 L1026.53,1045.5 L1027.16,1050.3 L1027.78,1047.9 L1028.41,1051.4 L1028.97,1049.8 L1029.53,1047.1 L1030.09,1047.5 L1030.65,1048.0 L1031.21,1050.8 L1031.77,1047.8 L1032.33,1052.9 L1032.89,1053.1 L1033.45,1051.1 L1034.01,1049.8 L1034.56,1052.9 L1035.12,1047.9 L1035.68,1047.8 L1036.24,1051.0 L1036.80,1048.5 L1037.36,1051.1 L1037.94,1048.9 L1038.52,1051.7 L1039.10,1048.8 L1039.68,1052.3 L1040.25,1049.1 L1040.83,1046.3 L1041.41,1050.0 L1041.99,1046.8 L1042.57,1049.7 L1043.15,1047.7 L1043.73,1049.4 L1044.31,1045.0 L1044.88,1048.0 L1045.46,1047.8 L1046.04,1044.7 L1046.62,1047.8 L1047.20,1048.7 L1047.78,1044.2 L1048.36,1043.0 L1048.94,1042.7 L1049.51,1041.0 L1050.07,1042.5 L1050.62,1042.1 L1051.17,1045.5 L1051.72,1045.7 L1052.28,1045.7 L1052.83,1043.0 L1053.38,1046.6 L1053.93,1044.6 L1054.49,1048.4 L1055.04,1045.7 L1055.59,1044.1 L1056.14,1046.4 L1056.70,1045.8 L1057.25,1048.8 L1057.80,1046.7 L1058.35,1049.6 L1058.90,1046.9 L1059.46,1048.4 L1060.01,1052.8 L1060.56,1051.9 L1061.11,1046.9 L1061.67,1047.3 L1062.25,1050.6 L1062.82,1046.9 L1063.40,1052.8 L1063.98,1052.8 L1064.56,1047.8 L1065.14,1052.8 L1065.72,1047.8 L1066.30,1050.3 L1066.88,1051.9 L1067.45,1047.8 L1068.03,1047.4 L1068.61,1051.0 L1069.19,1048.6 L1069.77,1052.0 L1070.35,1051.3 L1070.93,1046.9 L1071.50,1051.8 L1072.08,1048.2 L1072.66,1047.9 L1073.24,1052.0 L1073.82,1051.2 L1074.40,1049.8 L1074.98,1048.8 L1075.56,1051.7 L1076.13,1053.2 L1076.71,1049.7 L1077.29,1053.8 L1077.85,1052.6 L1078.41,1050.2 L1078.97,1052.9 L1079.52,1050.5 L1080.08,1050.8 L1080.64,1053.1 L1081.20,1054.3 L1081.76,1048.6 L1082.31,1052.8 L1082.87,1050.2 L1083.43,1048.7 L1083.99,1052.3 L1084.55,1052.5 L1085.10,1048.4 L1085.66,1052.0 L1086.22,1048.2 L1086.78,1048.4 L1087.34,1051.1 L1087.89,1050.0 L1088.45,1048.3 L1089.01,1051.2 L1089.57,1047.4 L1090.13,1051.7 L1090.68,1047.6 L1091.24,1052.1 L1091.80,1048.3 L1092.36,1051.9 L1092.92,1048.3 L1093.50,1047.7 L1094.07,1048.9 L1094.65,1051.7 L1095.23,1049.3 L1095.81,1054.0 L1096.39,1049.8 L1096.94,1052.6 L1097.50,1050.5 L1098.06,1053.1 L1098.61,1051.5 L1099.17,1054.9 L1099.72,1049.7 L1100.28,1052.4 L1100.83,1051.2 L1101.39,1053.7 L1101.94,1049.9 L1102.50,1054.2 L1103.06,1054.3 L1103.61,1054.0 L1104.17,1048.9 L1104.72,1053.2 L1105.28,1050.2 L1105.83,1053.2 L1106.39,1049.4 L1106.94,1050.0 L1107.50,1052.5 L1108.06,1049.6 L1108.61,1054.1 L1109.17,1053.2 L1109.72,1049.9 L1110.28,1054.9 L1110.86,1046.3 L1111.44,1054.8 L1112.01,1051.4 L1112.59,1051.8 L1113.17,1053.0 L1113.75,1049.4 L1114.33,1050.4 L1114.91,1053.5 L1115.49,1051.6 L1116.06,1053.3 L1116.64,1053.4 L1117.22,1051.0 L1117.80,1054.2 L1118.38,1049.7 L1118.96,1050.1 L1119.54,1053.1 L1120.12,1048.9 L1120.69,1051.5 L1121.27,1049.5 L1121.85,1051.3 L1122.43,1050.3 L1123.01,1045.3 L1123.59,1044.2 L1124.17,1043.6 L1124.75,1044.9 L1125.32,1046.6 L1125.90,1048.1 L1126.48,1051.4 L1127.06,1046.9 L1127.64,1051.5 L1128.22,1044.6 L1128.80,1050.9 L1129.38,1047.7 L1129.95,1050.5 L1130.53,1046.6 L1131.11,1048.9 L1131.69,1046.9 L1132.27,1050.6 L1132.85,1047.6 L1133.43,1049.1 L1134.00,1049.8 L1134.58,1043.4 L1135.16,1042.0 L1135.74,1039.1 L1136.32,1037.1 L1136.90,1039.5 L1137.48,1043.2 L1138.06,1043.6 L1138.63,1049.0 L1139.21,1046.1 L1139.79,1046.5 L1140.37,1050.3 L1140.95,1048.3 L1141.53,1051.9 L1142.11,1049.0 L1142.69,1049.5 L1143.26,1053.1 L1143.84,1054.6 L1144.42,1049.6 L1145.00,1055.3 L1145.58,1055.1 L1146.16,1051.2 L1146.74,1055.8 L1147.31,1051.6 L1147.89,1052.4 L1148.47,1054.2 L1149.05,1052.6 L1149.63,1053.9 L1150.21,1056.2 L1150.79,1055.8 L1151.37,1053.2 L1151.94,1056.0 L1152.52,1050.6 L1153.10,1055.8 L1153.68,1050.6 L1154.23,1049.7 L1154.79,1049.8 L1155.34,1049.0 L1155.89,1052.0 L1156.44,1049.1 L1156.99,1049.8 L1157.55,1045.1 L1158.10,1045.7 L1158.65,1041.6 L1159.20,1040.6 L1159.76,1038.2 L1160.41,1039.8 L1161.06,1042.7 L1161.71,1043.7 L1162.36,1045.9 L1162.94,1052.2 L1163.52,1047.1 L1164.10,1048.7 L1164.68,1052.2 L1165.25,1050.9 L1165.83,1053.7 L1166.41,1055.0 L1166.99,1052.4 L1167.57,1057.1 L1168.15,1052.9 L1168.73,1055.7 L1169.31,1052.1 L1169.88,1057.7 L1170.46,1053.3 L1171.04,1056.7 L1171.62,1054.7 L1172.20,1057.8 L1172.78,1055.3 L1173.36,1056.8 L1173.94,1053.3 L1174.51,1058.4 L1175.09,1057.0 L1175.67,1053.8 L1176.25,1055.9 L1176.80,1058.3 L1177.35,1053.1 L1177.91,1057.2 L1178.46,1054.5 L1179.01,1057.5 L1179.56,1052.6 L1180.12,1058.0 L1180.67,1054.7 L1181.22,1053.4 L1181.77,1057.7 L1182.33,1053.5 L1182.88,1057.1 L1183.43,1054.1 L1183.98,1056.5 L1184.54,1055.1 L1185.09,1054.0 L1185.64,1053.2 L1186.19,1060.9 L1186.75,1055.1 L1187.30,1059.0 L1187.85,1055.6 L1188.40,1054.2 L1188.98,1057.8 L1189.56,1053.7 L1190.14,1058.2 L1190.72,1055.2 L1191.30,1057.8 L1191.88,1054.7 L1192.45,1056.4 L1193.03,1054.5 L1193.61,1057.2 L1194.19,1053.6 L1194.77,1056.4 L1195.35,1052.5 L1195.93,1057.2 L1196.50,1056.6 L1197.08,1052.9 L1197.66,1054.7 L1198.24,1056.0 L1198.82,1051.0 L1199.37,1054.5 L1199.92,1052.3 L1200.48,1052.5 L1201.03,1055.3 L1201.58,1049.9 L1202.13,1050.4 L1202.69,1054.3 L1203.24,1053.7 L1203.79,1050.0 L1204.34,1049.4 L1204.90,1054.0 L1205.45,1050.5 L1206.00,1053.8 L1206.55,1048.2 L1207.11,1052.1 L1207.66,1049.0 L1208.21,1051.6 L1208.76,1052.6 L1209.32,1050.8 L1209.87,1048.9 L1210.42,1050.6 L1210.97,1049.6 L1211.55,1052.1 L1212.13,1048.3 L1212.71,1051.0 L1213.29,1048.1 L1213.87,1052.2 L1214.44,1049.0 L1215.02,1052.5 L1215.60,1052.9 L1216.18,1048.6 L1216.76,1050.5 L1217.34,1048.0 L1217.92,1047.4 L1218.50,1049.6 L1219.07,1051.1 L1219.65,1049.9 L1220.23,1045.1 L1220.81,1051.9 L1221.39,1048.7 L1221.97,1046.3 L1222.55,1043.6 L1223.12,1046.9 L1223.70,1043.2 L1224.28,1045.8 L1224.86,1042.6 L1225.44,1042.3 L1226.02,1041.9 L1226.60,1041.0 L1227.18,1041.9 L1227.75,1041.3 L1228.33,1041.8 L1228.91,1045.3 L1229.49,1039.5 L1230.07,1043.3 L1230.65,1040.8 L1231.23,1043.8 L1231.81,1040.3 L1232.38,1042.5 L1232.96,1040.6 L1233.54,1041.1 L1234.12,1042.0 L1234.70,1041.7 L1235.28,1045.4 L1235.86,1043.1 L1236.44,1043.3 L1237.01,1048.5 L1237.59,1045.1 L1238.17,1048.3 L1238.75,1047.5 L1239.33,1047.9 L1239.91,1049.8 L1240.49,1048.5 L1241.06,1050.7 L1241.64,1049.4 L1242.22,1048.9 L1242.80,1053.3 L1243.38,1048.4 L1243.96,1052.3 L1244.54,1049.5 L1245.12,1048.4 L1245.69,1052.5 L1246.27,1047.2 L1246.85,1051.8 L1247.43,1050.9 L1248.01,1048.2 L1248.59,1049.5 L1249.17,1046.1 L1249.75,1045.8 L1250.32,1044.0 L1250.90,1042.2 L1251.46,1043.7 L1252.01,1043.3 L1252.56,1043.6 L1253.11,1047.6 L1253.66,1048.5 L1254.22,1049.8 L1254.77,1050.4 L1255.32,1048.9 L1255.87,1049.1 L1256.43,1050.8 L1256.98,1046.5 L1257.53,1046.7 L1258.08,1050.3 L1258.64,1048.4 L1259.19,1052.3 L1259.74,1048.5 L1260.29,1052.4 L1260.85,1047.9 L1261.40,1052.2 L1261.95,1051.5 L1262.50,1047.9 L1263.06,1052.6 L1263.61,1048.6 L1264.16,1052.7 L1264.71,1049.9 L1265.27,1051.7 L1265.82,1048.0 L1266.37,1052.7 L1266.92,1048.1 L1267.47,1051.2 L1268.03,1049.5 L1268.58,1046.3 L1269.13,1050.4 L1269.68,1048.0 L1270.24,1046.1 L1270.79,1047.0 L1271.34,1043.9 L1271.89,1047.0 L1272.45,1042.0 L1273.00,1045.6 L1273.55,1043.2 L1274.10,1046.5 L1274.66,1045.2 L1275.21,1041.7 L1275.79,1044.6 L1276.37,1041.4 L1276.94,1043.1 L1277.52,1041.4 L1278.10,1045.0 L1278.68,1040.9 L1279.26,1039.5 L1279.84,1042.8 L1280.42,1041.9 L1281.00,1045.3 L1281.57,1041.9 L1282.15,1044.8 L1282.73,1040.5 L1283.31,1045.4 L1283.89,1046.7 L1284.47,1043.2 L1285.05,1042.7 L1285.62,1049.6 L1286.20,1046.4 L1286.78,1045.9 L1287.36,1052.2 L1287.94,1052.2 L1288.52,1048.6 L1289.10,1055.3 L1289.68,1052.4 L1290.25,1055.4 L1290.83,1057.9 L1291.41,1054.8 L1291.99,1060.1 L1292.57,1058.3 L1293.15,1062.5 L1293.73,1059.8 L1294.31,1061.6 L1294.88,1062.1 L1295.46,1063.4 L1296.04,1065.5 L1296.62,1070.8 L1297.20,1074.0 L1297.78,1070.4 L1298.36,1077.2 L1298.94,1074.6 L1299.51,1076.7 L1300.09,1079.1 L1300.67,1078.5 L1301.25,1082.0 L1301.83,1084.4 L1302.41,1085.2 L1302.99,1084.3 L1303.56,1085.9 L1304.14,1086.0 L1304.72,1088.4 L1305.31,1088.1 L1305.91,1091.0 L1306.50,1091.0 L1306.50,1094.0 L1308.50,1060.0 L1308.50,1060.0 L1308.50,1060.0 L1310.30,1020.0 L1310.30,1020.0 L1310.30,1020.0 L1312.20,980.0 L1312.20,980.0 L1312.20,980.0 L1314.10,930.0 L1314.10,930.0 L1314.10,930.0 L1314.80,870.0 L1314.80,870.0 L1314.80,870.0 L1315.20,810.0 L1315.20,810.0 L1315.20,810.0 L1315.50,780.0 L1315.50,780.0 L1315.50,780.0 L1316.00,766.5 L1316.00,766.5 L1316.00,766.5 L1316.50,780.0 L1316.50,780.0 L1316.50,780.0 L1316.80,810.0 L1316.80,810.0 L1316.80,810.0 L1317.20,870.0 L1317.20,870.0 L1317.20,870.0 L1318.00,930.0 L1318.00,930.0 L1318.00,930.0 L1319.50,980.0 L1319.50,980.0 L1319.50,980.0 L1320.30,1020.0 L1320.30,1020.0 L1320.30,1020.0 L1321.40,1070.0 L1321.40,1070.0 L1321.40,1070.0 L1322.60,1117.8 L1322.60,1105.2 L1323.20,1105.2 L1323.80,1103.3 L1324.40,1102.4 L1325.00,1100.7 L1325.67,1099.7 L1326.33,1097.5 L1327.00,1098.9 L1327.67,1101.2 L1328.33,1105.2 L1329.00,1108.3 L1329.67,1113.9 L1330.33,1117.6 L1331.00,1122.7 L1331.62,1123.2 L1332.23,1125.4 L1332.85,1129.2 L1333.47,1129.9 L1334.08,1135.4 L1334.70,1133.9 L1335.29,1133.7 L1335.87,1136.3 L1336.46,1135.2 L1337.04,1137.2 L1337.63,1138.1 L1338.21,1138.7 L1338.80,1136.8 L1339.41,1138.4 L1340.02,1137.4 L1340.63,1139.2 L1341.24,1136.6 L1341.85,1138.2 L1342.46,1137.8 L1343.07,1139.2 L1343.68,1138.3 L1344.30,1137.7 L1344.91,1142.1 L1345.52,1139.0 L1346.13,1139.3 L1346.74,1142.5 L1347.35,1142.8 L1347.96,1141.4 L1348.57,1141.0 L1349.18,1144.7 L1349.79,1142.6 L1350.39,1145.7 L1350.99,1143.6 L1351.59,1145.1 L1352.19,1146.1 L1352.79,1146.9 L1353.39,1145.4 L1353.99,1144.9 L1354.59,1145.2 L1355.19,1145.1 L1355.79,1144.7 L1356.39,1147.1 L1356.98,1144.7 L1357.56,1146.5 L1358.15,1145.7 L1358.74,1147.5 L1359.32,1145.2 L1359.91,1145.7 L1360.50,1148.0 L1361.08,1147.1 L1361.67,1145.9 L1362.26,1148.1 L1362.84,1146.0 L1363.43,1147.1 L1364.02,1149.9 L1364.60,1146.9 L1365.19,1146.3 L1365.77,1148.3 L1366.36,1147.3 L1366.95,1148.4 L1367.53,1146.8 L1368.12,1146.4 L1368.71,1148.0 L1369.29,1146.0 L1369.88,1147.9 L1370.47,1145.6 L1371.05,1148.1 L1371.64,1145.9 L1372.23,1147.9 L1372.81,1146.1 L1373.40,1147.3 L1373.99,1147.7 L1374.56,1145.6 L1375.13,1147.0 L1375.70,1147.1 L1376.27,1145.0 L1376.84,1146.9 L1377.41,1145.0 L1377.98,1146.4 L1378.55,1144.7 L1379.12,1146.8 L1379.69,1144.6 L1380.26,1146.7 L1380.83,1146.6 L1381.40,1144.8 L1381.97,1146.7 L1382.54,1146.4 L1383.11,1144.6 L1383.68,1145.0 L1384.25,1146.8 L1384.82,1146.4 L1385.39,1145.0 L1385.96,1144.5 L1386.53,1144.5 L1387.10,1146.9 L1387.67,1144.2 L1388.24,1146.9 L1388.81,1145.0 L1389.38,1144.7 L1389.98,1147.3 L1390.58,1145.6 L1391.18,1147.1 L1391.78,1146.3 L1392.38,1146.1 L1392.98,1146.7 L1393.58,1148.1 L1394.18,1149.2 L1394.78,1148.6 L1395.38,1147.6 L1395.98,1149.4 L1396.55,1147.6 L1397.12,1149.9 L1397.69,1147.8 L1398.26,1149.7 L1398.83,1147.5 L1399.40,1149.7 L1399.97,1148.3 L1400.54,1149.5 L1401.11,1149.5 L1401.68,1147.3 L1402.25,1148.9 L1402.82,1147.1 L1403.39,1148.2 L1403.96,1147.0 L1404.53,1148.9 L1405.10,1147.6 L1405.67,1148.6 L1406.24,1147.1 L1406.81,1148.4 L1407.38,1147.3 L1407.95,1148.3 L1408.52,1146.9 L1409.09,1148.6 L1409.66,1146.7 L1410.23,1147.5 L1410.80,1148.7 L1411.37,1146.7 L1411.95,1149.3 L1412.53,1147.0 L1413.11,1149.6 L1413.69,1147.3 L1414.27,1148.3 L1414.84,1149.9 L1415.42,1148.6 L1416.00,1150.8 L1416.58,1149.4 L1417.16,1150.9 L1417.74,1151.9 L1418.32,1149.1 L1418.90,1151.3 L1419.47,1150.5 L1420.05,1151.7 L1420.63,1150.5 L1421.21,1153.2 L1421.79,1151.0 L1422.37,1151.5 L1422.94,1153.3 L1423.50,1151.4 L1424.07,1153.0 L1424.64,1151.2 L1425.21,1153.6 L1425.77,1152.3 L1426.34,1151.6 L1426.91,1153.4 L1427.48,1151.3 L1428.04,1151.2 L1428.61,1153.0 L1429.18,1152.0 L1429.75,1153.3 L1430.31,1153.1 L1430.88,1150.9 L1431.45,1153.0 L1432.02,1151.3 L1432.58,1152.7 L1433.15,1151.8 L1433.72,1153.1 L1434.29,1152.7 L1434.85,1151.4 L1435.42,1153.4 L1435.99,1150.6 L1436.56,1153.0 L1437.12,1151.3 L1437.69,1153.2 L1438.26,1150.9 L1438.83,1153.2 L1439.40,1151.1 L1439.96,1152.7 L1440.53,1150.9 L1441.09,1153.2 L1441.65,1150.5 L1442.22,1150.6 L1442.78,1153.2 L1443.35,1153.1 L1443.91,1150.7 L1444.47,1152.8 L1445.04,1153.7 L1445.60,1151.7 L1446.17,1149.8 L1446.73,1151.5 L1447.29,1151.1 L1447.86,1153.2 L1448.42,1150.7 L1448.99,1153.2 L1449.55,1152.9 L1450.11,1152.6 L1450.68,1151.8 L1451.24,1153.3 L1451.80,1153.7 L1452.37,1151.2 L1452.93,1152.8 L1453.50,1153.4 L1454.06,1151.7 L1454.62,1153.5 L1455.19,1153.0 L1455.75,1152.2 L1456.32,1153.3 L1456.88,1152.8 L1457.44,1151.3 L1458.01,1153.6 L1458.57,1152.2 L1459.14,1154.2 L1459.70,1153.4 L1460.26,1152.0 L1460.83,1153.6 L1461.39,1151.6 L1461.96,1154.1 L1462.55,1151.5 L1463.15,1151.9 L1463.75,1154.3 L1464.35,1151.8 L1464.95,1154.2 L1465.55,1153.8 L1466.15,1151.6 L1466.75,1155.0 L1467.35,1152.9 L1467.95,1150.8 L1468.55,1152.1 L1469.15,1151.9 L1469.75,1148.8 L1470.35,1152.0 L1470.95,1148.2 L1471.55,1149.0 L1472.15,1147.2 L1472.75,1148.2 L1473.35,1148.3 L1473.95,1146.3 L1474.55,1148.4 L1475.15,1149.4 L1475.78,1149.3 L1476.41,1149.0 L1477.04,1148.7 L1477.66,1150.7 L1478.29,1149.1 L1478.92,1151.0 L1479.55,1152.4 L1480.14,1151.0 L1480.72,1154.7 L1481.31,1152.6 L1481.90,1154.4 L1482.48,1153.2 L1483.07,1154.7 L1483.65,1155.5 L1484.24,1153.7 L1484.83,1155.5 L1485.41,1154.9 L1486.00,1152.4 L1486.59,1154.6 L1487.17,1154.7 L1487.76,1152.2 L1488.35,1154.1 L1488.96,1151.4 L1489.57,1152.7 L1490.18,1151.1 L1490.79,1152.0 L1491.40,1151.0 L1492.01,1152.3 L1492.62,1150.0 L1493.23,1150.2 L1493.84,1152.7 L1494.44,1151.0 L1495.04,1152.3 L1495.64,1151.5 L1496.24,1153.3 L1496.84,1151.9 L1497.44,1153.9 L1498.04,1153.7 L1498.64,1156.0 L1499.24,1154.0 L1499.84,1155.9 L1500.44,1157.0 L1501.02,1155.5 L1501.59,1157.8 L1502.17,1158.3 L1502.75,1155.8 L1503.32,1158.4 L1503.90,1156.0 L1504.47,1158.5 L1505.05,1157.6 L1505.63,1155.9 L1506.20,1157.2 L1506.78,1156.0 L1507.35,1157.1 L1507.93,1155.8 L1508.51,1155.3 L1509.08,1156.5 L1509.66,1155.4 L1510.23,1156.8 L1510.81,1154.9 L1511.39,1156.4 L1511.96,1154.3 L1512.54,1155.7 L1513.11,1153.8 L1513.68,1155.7 L1514.25,1152.5 L1514.82,1155.8 L1515.39,1155.7 L1515.96,1155.0 L1516.53,1156.7 L1517.10,1153.4 L1517.67,1156.0 L1518.24,1152.0 L1518.81,1155.0 L1519.38,1154.2 L1519.95,1155.5 L1520.52,1155.4 L1521.09,1155.3 L1521.66,1153.1 L1522.23,1155.8 L1522.80,1153.8 L1523.37,1154.8 L1523.94,1155.2 L1524.51,1153.0 L1525.08,1155.1 L1525.65,1153.9 L1526.22,1155.2 L1526.79,1153.8 L1527.36,1154.9 L1527.93,1154.0 L1528.51,1155.3 L1529.08,1153.6 L1529.65,1153.6 L1530.23,1155.4 L1530.80,1153.8 L1531.38,1155.6 L1531.95,1154.1 L1532.52,1154.3 L1533.10,1157.1 L1533.67,1154.6 L1534.24,1156.6 L1534.82,1155.4 L1535.39,1157.3 L1535.96,1155.9 L1536.54,1157.4 L1537.11,1156.5 L1537.69,1157.7 L1538.26,1156.0 L1538.83,1158.6 L1539.41,1157.1 L1539.98,1157.2 L1540.55,1156.7 L1541.13,1157.1 L1541.70,1159.1 L1542.28,1157.3 L1542.85,1159.0 L1543.42,1155.4 L1544.00,1156.8 L1544.57,1156.4 L1545.14,1158.3 L1545.72,1158.3 L1546.29,1155.5 L1546.87,1158.1 L1547.44,1157.0 L1548.01,1155.1 L1548.59,1156.7 L1549.16,1155.6 L1549.73,1154.6 L1550.31,1157.1 L1550.88,1154.9 L1551.46,1155.1 L1552.03,1154.4 L1552.60,1156.4 L1553.18,1153.8 L1553.75,1154.3 L1554.32,1155.5 L1554.92,1153.7 L1555.51,1154.6 L1556.10,1153.9 L1556.69,1152.7 L1557.28,1154.1 L1557.88,1151.3 L1558.47,1151.3 L1559.06,1151.4 L1559.65,1152.5 L1560.24,1152.1 L1560.84,1152.3 L1561.43,1150.5 L1562.02,1152.1 L1562.63,1150.6 L1563.24,1151.5 L1563.85,1151.4 L1564.46,1152.8 L1565.08,1153.0 L1565.69,1152.0 L1566.30,1151.8 L1566.91,1152.6 L1567.52,1154.2 L1568.09,1153.1 L1568.66,1154.6 L1569.23,1155.2 L1569.80,1151.8 L1570.37,1154.5 L1570.94,1155.7 L1571.51,1153.8 L1572.08,1155.6 L1572.65,1154.6 L1573.22,1155.3 L1573.79,1156.0 L1574.36,1154.1 L1574.93,1154.4 L1575.50,1155.5 L1576.07,1153.8 L1576.64,1155.7 L1577.21,1153.3 L1577.78,1155.4 L1578.35,1153.6 L1578.92,1154.2 L1579.49,1154.6 L1580.06,1156.3 L1580.63,1155.5 L1581.20,1154.2 L1581.77,1154.3 L1582.34,1154.5 L1582.91,1156.6 L1583.49,1154.6 L1584.07,1156.4 L1584.65,1153.4 L1585.23,1156.6 L1585.81,1156.1 L1586.39,1156.7 L1586.97,1155.3 L1587.54,1157.3 L1588.12,1157.3 L1588.70,1154.6 L1589.28,1154.9 L1589.86,1157.7 L1590.44,1154.4 L1591.02,1155.5 L1591.60,1157.3 L1592.17,1155.4 L1592.75,1157.3 L1593.33,1156.2 L1593.91,1156.3 L1594.47,1158.3 L1595.04,1156.2 L1595.60,1157.9 L1596.17,1155.7 L1596.73,1158.1 L1597.29,1158.4 L1597.86,1156.7 L1598.42,1157.3 L1598.99,1155.7 L1599.55,1157.8 L1600.11,1156.5 L1600.68,1157.7 L1601.24,1156.2 L1601.81,1157.4 L1602.37,1155.3 L1602.93,1155.8 L1603.50,1158.7 L1604.06,1155.6 L1604.62,1158.1 L1605.19,1155.7 L1605.75,1155.2 L1606.32,1157.3 L1606.88,1156.2 L1607.44,1157.1 L1608.01,1155.8 L1608.57,1157.8 L1609.14,1156.0 L1609.70,1155.1 L1610.26,1156.6 L1610.83,1157.4 L1611.39,1155.2 L1611.96,1155.8 L1612.52,1156.5 L1613.08,1156.5 L1613.65,1154.7 L1614.21,1157.0 L1614.77,1154.9 L1615.34,1154.9 L1615.90,1156.9 L1616.48,1156.8 L1617.05,1155.1 L1617.62,1155.7 L1618.20,1156.0 L1618.77,1154.2 L1619.35,1155.9 L1619.92,1154.1 L1620.49,1154.0 L1621.07,1153.4 L1621.64,1153.1 L1622.21,1151.4 L1622.79,1152.7 L1623.36,1154.2 L1623.93,1153.1 L1624.51,1153.7 L1625.08,1152.1 L1625.66,1154.4 L1626.23,1151.5 L1626.80,1151.6 L1627.38,1153.3 L1627.95,1153.9 L1628.52,1153.9 L1629.10,1151.7 L1629.70,1155.8 L1630.30,1152.6 L1630.90,1154.0 L1631.50,1153.5 L1632.10,1154.9 L1632.70,1153.7 L1633.30,1154.5 L1633.90,1155.0 L1634.50,1156.2 L1635.10,1155.5 L1635.70,1157.0 L1636.26,1155.8 L1636.83,1157.9 L1637.40,1155.9 L1637.97,1158.5 L1638.53,1156.2 L1639.10,1156.8 L1639.67,1156.2 L1640.24,1158.5 L1640.80,1158.6 L1641.37,1157.0 L1641.94,1158.5 L1642.51,1157.5 L1643.07,1157.0 L1643.64,1159.3 L1644.21,1157.1 L1644.78,1159.6 L1645.34,1157.7 L1645.91,1157.2 L1646.48,1159.9 L1647.05,1157.2 L1647.61,1157.3 L1648.18,1160.0 L1648.75,1157.6 L1649.32,1159.6 L1649.88,1159.9 L1650.45,1158.5 L1651.02,1159.4 L1651.59,1158.0 L1652.15,1159.1 L1652.72,1157.5 L1653.29,1159.2 L1653.89,1157.3 L1654.49,1158.9 L1655.09,1157.7 L1655.69,1159.3 L1656.29,1156.8 L1656.89,1158.6 L1657.49,1158.8 L1658.09,1156.5 L1658.69,1158.7 L1659.29,1155.3 L1659.89,1155.9 L1660.55,1155.9 L1661.21,1153.2 L1661.87,1155.0 L1662.53,1152.5 L1663.19,1152.2 L1663.80,1154.6 L1664.41,1155.1 L1665.02,1152.4 L1665.63,1154.8 L1666.24,1153.0 L1666.85,1153.5 L1667.46,1155.9 L1668.07,1157.5 L1668.68,1155.5 L1669.28,1155.1 L1669.88,1156.3 L1670.48,1155.3 L1671.08,1154.8 L1671.68,1154.6 L1672.28,1156.8 L1672.88,1154.5 L1673.48,1157.1 L1674.08,1155.9 L1674.68,1154.6 L1675.28,1154.3 L1675.88,1155.3 L1676.48,1155.9 L1677.08,1157.2 L1677.68,1158.1 L1678.28,1155.6 L1678.88,1156.8 L1679.48,1155.9 L1680.08,1157.1 L1680.68,1155.6 L1681.28,1157.5 L1681.88,1157.1 L1682.48,1156.2 L1683.08,1158.1 L1683.68,1158.5 L1684.28,1157.2 L1684.88,1158.8 L1685.48,1158.1 L1686.08,1157.7 L1686.68,1159.2 L1687.28,1157.6 L1687.88,1159.9 L1688.48,1160.2 L1689.08,1158.4 L1689.68,1160.8 L1690.28,1160.5 L1690.88,1159.4 L1691.48,1160.9 L1692.08,1159.6 L1692.68,1162.1 L1693.28,1160.4 L1693.88,1163.3 L1694.48,1164.2 L1695.08,1161.2 L1695.68,1164.5 L1696.28,1164.8 L1696.88,1163.0 L1697.48,1164.0 L1698.07,1165.7 L1698.67,1164.1 L1699.27,1164.9 L1699.87,1164.3 L1700.47,1166.7 L1701.07,1164.7 L1701.67,1166.5 L1702.34,1166.1 L1703.00,1166.6" fill="none" stroke="#000" stroke-width="3.5" stroke-linejoin="round" stroke-linecap="round"/>
<rect x="225" y="50" width="1478" height="1122" fill="none" stroke="#000" stroke-width="5"/>
<line x1="201" y1="1172.0" x2="225" y2="1172.0" stroke="#000" stroke-width="5"/>
<line x1="212" y1="1078.5" x2="225" y2="1078.5" stroke="#000" stroke-width="5"/>
<line x1="201" y1="985.0" x2="225" y2="985.0" stroke="#000" stroke-width="5"/>
<line x1="212" y1="891.5" x2="225" y2="891.5" stroke="#000" stroke-width="5"/>
<line x1="201" y1="798.0" x2="225" y2="798.0" stroke="#000" stroke-width="5"/>
<line x1="212" y1="704.5" x2="225" y2="704.5" stroke="#000" stroke-width="5"/>
<line x1="201" y1="611.0" x2="225" y2="611.0" stroke="#000" stroke-width="5"/>
<line x1="212" y1="517.5" x2="225" y2="517.5" stroke="#000" stroke-width="5"/>
<line x1="201" y1="424.0" x2="225" y2="424.0" stroke="#000" stroke-width="5"/>
<line x1="212" y1="330.5" x2="225" y2="330.5" stroke="#000" stroke-width="5"/>
<line x1="201" y1="237.0" x2="225" y2="237.0" stroke="#000" stroke-width="5"/>
<line x1="212" y1="143.5" x2="225" y2="143.5" stroke="#000" stroke-width="5"/>
<line x1="201" y1="50.0" x2="225" y2="50.0" stroke="#000" stroke-width="5"/>
<line x1="225.0" y1="1172" x2="225.0" y2="1195" stroke="#000" stroke-width="5"/>
<line x1="298.9" y1="1172" x2="298.9" y2="1184" stroke="#000" stroke-width="5"/>
<line x1="372.8" y1="1172" x2="372.8" y2="1195" stroke="#000" stroke-width="5"/>
<line x1="446.7" y1="1172" x2="446.7" y2="1184" stroke="#000" stroke-width="5"/>
<line x1="520.6" y1="1172" x2="520.6" y2="1195" stroke="#000" stroke-width="5"/>
<line x1="594.5" y1="1172" x2="594.5" y2="1184" stroke="#000" stroke-width="5"/>
<line x1="668.4" y1="1172" x2="668.4" y2="1195" stroke="#000" stroke-width="5"/>
<line x1="742.3" y1="1172" x2="742.3" y2="1184" stroke="#000" stroke-width="5"/>
<line x1="816.2" y1="1172" x2="816.2" y2="1195" stroke="#000" stroke-width="5"/>
<line x1="890.1" y1="1172" x2="890.1" y2="1184" stroke="#000" stroke-width="5"/>
<line x1="964.0" y1="1172" x2="964.0" y2="1195" stroke="#000" stroke-width="5"/>
<line x1="1037.9" y1="1172" x2="1037.9" y2="1184" stroke="#000" stroke-width="5"/>
<line x1="1111.8" y1="1172" x2="1111.8" y2="1195" stroke="#000" stroke-width="5"/>
<line x1="1185.7" y1="1172" x2="1185.7" y2="1184" stroke="#000" stroke-width="5"/>
<line x1="1259.6" y1="1172" x2="1259.6" y2="1195" stroke="#000" stroke-width="5"/>
<line x1="1333.5" y1="1172" x2="1333.5" y2="1184" stroke="#000" stroke-width="5"/>
<line x1="1407.4" y1="1172" x2="1407.4" y2="1195" stroke="#000" stroke-width="5"/>
<line x1="1481.3" y1="1172" x2="1481.3" y2="1184" stroke="#000" stroke-width="5"/>
<line x1="1555.2" y1="1172" x2="1555.2" y2="1195" stroke="#000" stroke-width="5"/>
<line x1="1629.1" y1="1172" x2="1629.1" y2="1184" stroke="#000" stroke-width="5"/>
<line x1="1703.0" y1="1172" x2="1703.0" y2="1195" stroke="#000" stroke-width="5"/>
<text transform="translate(66.70,65.28) scale(1.0107,0.9664)" font-family="'Liberation Serif','Times New Roman',serif" font-size="52.5" font-weight="bold" font-style="normal" fill="#000">12.0k</text>
<text transform="translate(67.01,253.02) scale(0.9983,0.9732)" font-family="'Liberation Serif','Times New Roman',serif" font-size="52.5" font-weight="bold" font-style="normal" fill="#000">10.0k</text>
<text transform="translate(94.28,438.01) scale(0.9849,0.9154)" font-family="'Liberation Serif','Times New Roman',serif" font-size="52.5" font-weight="bold" font-style="normal" fill="#000">8.0k</text>
<text transform="translate(94.28,625.29) scale(0.9849,0.9503)" font-family="'Liberation Serif','Times New Roman',serif" font-size="52.5" font-weight="bold" font-style="normal" fill="#000">6.0k</text>
<text transform="translate(94.26,812.88) scale(0.9915,0.9584)" font-family="'Liberation Serif','Times New Roman',serif" font-size="52.5" font-weight="bold" font-style="normal" fill="#000">4.0k</text>
<text transform="translate(92.74,999.28) scale(1.0054,0.9611)" font-family="'Liberation Serif','Times New Roman',serif" font-size="52.5" font-weight="bold" font-style="normal" fill="#000">2.0k</text>
<text transform="translate(121.98,1185.30) scale(1.0081,0.9371)" font-family="'Liberation Serif','Times New Roman',serif" font-size="52.5" font-weight="bold" font-style="normal" fill="#000">0.0</text>
<text transform="translate(171.67,1249.30) scale(0.9954,0.9918)" font-family="'Liberation Serif','Times New Roman',serif" font-size="54" font-weight="bold" font-style="normal" fill="#000">1100</text>
<text transform="translate(331.94,1249.30) scale(0.9716,0.9918)" font-family="'Liberation Serif','Times New Roman',serif" font-size="54" font-weight="bold" font-style="normal" fill="#000">990</text>
<text transform="translate(480.07,1249.30) scale(0.9864,0.9918)" font-family="'Liberation Serif','Times New Roman',serif" font-size="54" font-weight="bold" font-style="normal" fill="#000">880</text>
<text transform="translate(626.52,1249.30) scale(0.9934,0.9918)" font-family="'Liberation Serif','Times New Roman',serif" font-size="54" font-weight="bold" font-style="normal" fill="#000">770</text>
<text transform="translate(776.50,1249.30) scale(0.9735,0.9918)" font-family="'Liberation Serif','Times New Roman',serif" font-size="54" font-weight="bold" font-style="normal" fill="#000">660</text>
<text transform="translate(923.80,1249.30) scale(0.9772,0.9918)" font-family="'Liberation Serif','Times New Roman',serif" font-size="54" font-weight="bold" font-style="normal" fill="#000">550</text>
<text transform="translate(1072.78,1249.30) scale(0.9534,0.9918)" font-family="'Liberation Serif','Times New Roman',serif" font-size="54" font-weight="bold" font-style="normal" fill="#000">440</text>
<text transform="translate(1219.65,1249.30) scale(0.9740,0.9918)" font-family="'Liberation Serif','Times New Roman',serif" font-size="54" font-weight="bold" font-style="normal" fill="#000">330</text>
<text transform="translate(1366.99,1249.30) scale(0.9824,0.9918)" font-family="'Liberation Serif','Times New Roman',serif" font-size="54" font-weight="bold" font-style="normal" fill="#000">220</text>
<text transform="translate(1515.69,1249.30) scale(1.0132,0.9918)" font-family="'Liberation Serif','Times New Roman',serif" font-size="54" font-weight="bold" font-style="normal" fill="#000">110</text>
<text transform="translate(1689.98,1249.30) scale(1.0087,0.9918)" font-family="'Liberation Serif','Times New Roman',serif" font-size="54" font-weight="bold" font-style="normal" fill="#000">0</text>
<text transform="translate(72.97,739.72) rotate(-90) scale(0.9915,1.0327)" font-family="'Liberation Serif','Times New Roman',serif" font-size="77" font-weight="bold" font-style="normal" fill="#000">Counts</text>
<text transform="translate(639.03,1337.68) scale(1.0175,0.9947)" font-family="'Liberation Serif','Times New Roman',serif" font-size="72.5" font-weight="bold" font-style="normal" fill="#000">Binding Energy (eV)</text>
<text transform="translate(997.69,517.77) rotate(-90) scale(1.0076,1.0196)" font-family="'Liberation Serif','Times New Roman',serif" font-size="57" font-weight="bold" font-style="normal" fill="#000">O 1s</text>
<text transform="translate(1338.37,722.76) rotate(-90) scale(1.0024,1.0555)" font-family="'Liberation Serif','Times New Roman',serif" font-size="58" font-weight="bold" font-style="normal" fill="#000">C 1s</text>
<text transform="translate(1182.49,980.92) rotate(-90) scale(1.0178,1.0263)" font-family="'Liberation Serif','Times New Roman',serif" font-size="57" font-weight="bold" font-style="normal" fill="#000">N 1s</text>
<line x1="1159" y1="966" x2="1159" y2="1000" stroke="#000" stroke-width="2.6"/>
<path d="M1150.6 999 L1167 999 L1159 1028 Z" fill="#000"/>
</svg></body></html>
